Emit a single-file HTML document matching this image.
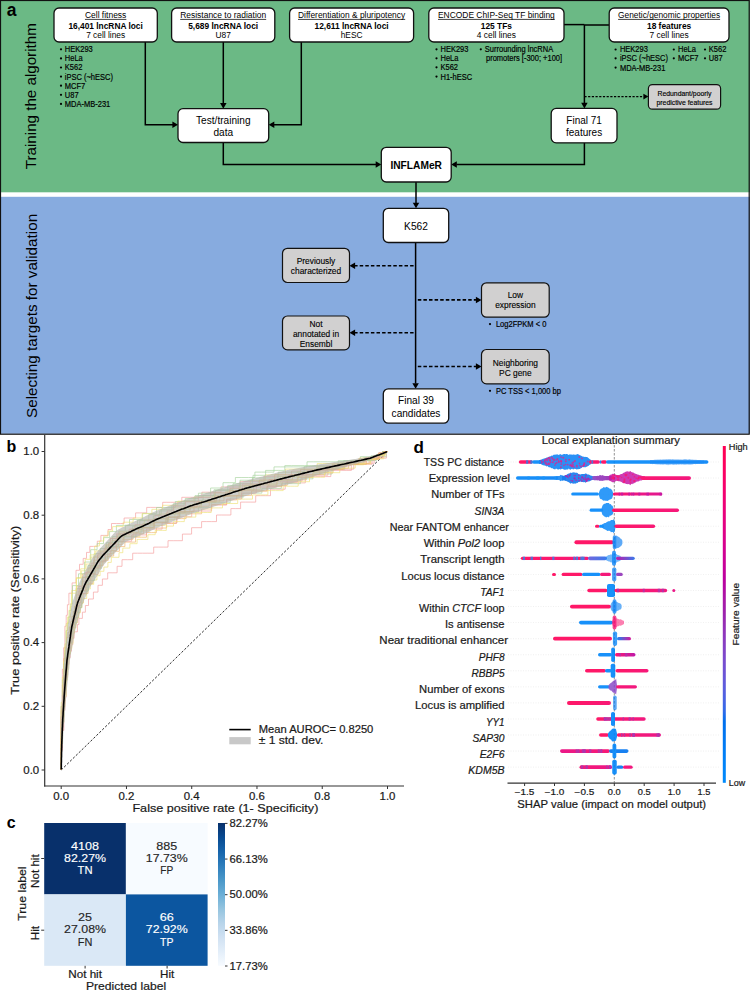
<!DOCTYPE html>
<html><head><meta charset="utf-8"><style>
html,body{margin:0;padding:0;background:#fff;width:750px;height:991px;overflow:hidden}
svg{display:block;font-family:"Liberation Sans", sans-serif}
</style></head><body>
<svg width="750" height="991" viewBox="0 0 750 991">
<rect width="750" height="991" fill="#fff"/>
<rect x="0" y="0" width="750" height="192.3" fill="#6bb985"/>
<rect x="0" y="196.8" width="750" height="237" fill="#87abdf"/>
<rect x="0.5" y="0.5" width="748.7" height="433.7" fill="none" stroke="#111" stroke-width="1.2"/>
<text x="6.8" y="16.2" font-size="17.5" text-anchor="start" font-weight="bold" fill="#000" >a</text>
<text transform="translate(36,96.2) rotate(-90)" font-size="15.2" text-anchor="middle" textLength="146" lengthAdjust="spacingAndGlyphs">Training the algorithm</text>
<text transform="translate(37,315.9) rotate(-90)" font-size="15.2" text-anchor="middle" textLength="204" lengthAdjust="spacingAndGlyphs">Selecting targets for validation</text>
<polyline points="145.3,42 145.3,124.7 173,124.7" fill="none" stroke="#000" stroke-width="1.5"/>
<polygon points="178,124.7 172.4,121.452 172.4,127.94800000000001" fill="#000"/>
<polyline points="223.3,42 223.3,103.7" fill="none" stroke="#000" stroke-width="1.5"/>
<polygon points="223.3,108.7 220.05200000000002,103.10000000000001 226.548,103.10000000000001" fill="#000"/>
<polyline points="301.3,42 301.3,124.7 274,124.7" fill="none" stroke="#000" stroke-width="1.5"/>
<polygon points="268.7,124.7 274.3,121.452 274.3,127.94800000000001" fill="#000"/>
<polyline points="223.3,142.5 223.3,164.6 376,164.6" fill="none" stroke="#000" stroke-width="1.5"/>
<polygon points="381.3,164.6 375.7,161.352 375.7,167.84799999999998" fill="#000"/>
<polyline points="564,24.6 584.4,24.6" fill="none" stroke="#000" stroke-width="1.5"/>
<polyline points="609,25 584.4,25" fill="none" stroke="#000" stroke-width="1.5"/>
<polyline points="584.4,24.6 584.4,103.5" fill="none" stroke="#000" stroke-width="1.5"/>
<polygon points="584.4,108.4 581.1519999999999,102.80000000000001 587.648,102.80000000000001" fill="#000"/>
<polyline points="584.4,96.6 643.5,96.6" fill="none" stroke="#000" stroke-width="1.1" stroke-dasharray="2.2,1.5"/>
<polygon points="648.4,96.6 643.4,93.69999999999999 643.4,99.5" fill="#000"/>
<polyline points="584.4,142.8 584.4,164.6 456.5,164.6" fill="none" stroke="#000" stroke-width="1.5"/>
<polygon points="451.2,164.6 456.8,161.352 456.8,167.84799999999998" fill="#000"/>
<polyline points="416,182 416,203.5" fill="none" stroke="#000" stroke-width="1.5"/>
<polygon points="416,208.3 412.752,202.70000000000002 419.248,202.70000000000002" fill="#000"/>
<rect x="54" y="8" width="103.30000000000001" height="34" rx="5" ry="5" fill="#fff" stroke="#111" stroke-width="1.3"/>
<text x="105.65" y="18.0" font-size="8.5" text-anchor="middle" fill="#000" textLength="41.4" lengthAdjust="spacingAndGlyphs" >Cell fitness</text>
<line x1="84.95" y1="19.4" x2="126.35000000000001" y2="19.4" stroke="#000" stroke-width="0.75"/>
<text x="105.65" y="28.5" font-size="8.4" text-anchor="middle" font-weight="bold" fill="#000" textLength="74.4" lengthAdjust="spacingAndGlyphs" >16,401 lncRNA loci</text>
<text x="105.65" y="38.4" font-size="8.4" text-anchor="middle" fill="#000" textLength="39" lengthAdjust="spacingAndGlyphs" >7 cell lines</text>
<rect x="171.6" y="8" width="103.20000000000002" height="34" rx="5" ry="5" fill="#fff" stroke="#111" stroke-width="1.3"/>
<text x="223.2" y="18.0" font-size="8.5" text-anchor="middle" fill="#000" textLength="86" lengthAdjust="spacingAndGlyphs" >Resistance to radiation</text>
<line x1="180.2" y1="19.4" x2="266.2" y2="19.4" stroke="#000" stroke-width="0.75"/>
<text x="223.2" y="28.5" font-size="8.4" text-anchor="middle" font-weight="bold" fill="#000" >5,689 lncRNA loci</text>
<text x="223.2" y="38.4" font-size="8.4" text-anchor="middle" fill="#000" >U87</text>
<rect x="289.6" y="8" width="124.0" height="34" rx="5" ry="5" fill="#fff" stroke="#111" stroke-width="1.3"/>
<text x="351.6" y="18.0" font-size="8.5" text-anchor="middle" fill="#000" textLength="107.2" lengthAdjust="spacingAndGlyphs" >Differentiation &amp; pluripotency</text>
<line x1="298.0" y1="19.4" x2="405.20000000000005" y2="19.4" stroke="#000" stroke-width="0.75"/>
<text x="351.6" y="28.5" font-size="8.4" text-anchor="middle" font-weight="bold" fill="#000" >12,611 lncRNA loci</text>
<text x="351.6" y="38.4" font-size="8.4" text-anchor="middle" fill="#000" >hESC</text>
<rect x="428.8" y="8" width="135.2" height="34" rx="5" ry="5" fill="#fff" stroke="#111" stroke-width="1.3"/>
<text x="496.4" y="18.0" font-size="8.5" text-anchor="middle" fill="#000" textLength="116.8" lengthAdjust="spacingAndGlyphs" >ENCODE ChIP-Seq TF binding</text>
<line x1="438.0" y1="19.4" x2="554.8" y2="19.4" stroke="#000" stroke-width="0.75"/>
<text x="496.4" y="28.5" font-size="8.4" text-anchor="middle" font-weight="bold" fill="#000" >125 TFs</text>
<text x="496.4" y="38.4" font-size="8.4" text-anchor="middle" fill="#000" >4 cell lines</text>
<rect x="609.2" y="8" width="119.79999999999995" height="34" rx="5" ry="5" fill="#fff" stroke="#111" stroke-width="1.3"/>
<text x="669.1" y="18.0" font-size="8.5" text-anchor="middle" fill="#000" textLength="102" lengthAdjust="spacingAndGlyphs" >Genetic/genomic properties</text>
<line x1="618.1" y1="19.4" x2="720.1" y2="19.4" stroke="#000" stroke-width="0.75"/>
<text x="669.1" y="28.5" font-size="8.4" text-anchor="middle" font-weight="bold" fill="#000" >18 features</text>
<text x="669.1" y="38.4" font-size="8.4" text-anchor="middle" fill="#000" >7 cell lines</text>
<circle cx="61" cy="49.3" r="1.1" fill="#000"/>
<text x="64.8" y="52.199999999999996" font-size="8.18" stroke="#000" stroke-width="0.18" textLength="27.93" lengthAdjust="spacingAndGlyphs">HEK293</text>
<circle cx="61" cy="58.4" r="1.1" fill="#000"/>
<text x="64.8" y="61.3" font-size="8.18" stroke="#000" stroke-width="0.18" textLength="17.93" lengthAdjust="spacingAndGlyphs">HeLa</text>
<circle cx="61" cy="67.5" r="1.1" fill="#000"/>
<text x="64.8" y="70.4" font-size="8.18" stroke="#000" stroke-width="0.18" textLength="17.52" lengthAdjust="spacingAndGlyphs">K562</text>
<circle cx="61" cy="76.6" r="1.1" fill="#000"/>
<text x="64.8" y="79.5" font-size="8.18" stroke="#000" stroke-width="0.18" textLength="48.14" lengthAdjust="spacingAndGlyphs">iPSC (~hESC)</text>
<circle cx="61" cy="85.69999999999999" r="1.1" fill="#000"/>
<text x="64.8" y="88.6" font-size="8.18" stroke="#000" stroke-width="0.18" textLength="20.42" lengthAdjust="spacingAndGlyphs">MCF7</text>
<circle cx="61" cy="94.8" r="1.1" fill="#000"/>
<text x="64.8" y="97.7" font-size="8.18" stroke="#000" stroke-width="0.18" textLength="13.76" lengthAdjust="spacingAndGlyphs">U87</text>
<circle cx="61" cy="103.89999999999999" r="1.1" fill="#000"/>
<text x="64.8" y="106.8" font-size="8.18" stroke="#000" stroke-width="0.18" textLength="45.43" lengthAdjust="spacingAndGlyphs">MDA-MB-231</text>
<circle cx="436.5" cy="49.3" r="1.1" fill="#000"/>
<text x="440.5" y="52.199999999999996" font-size="8.18" stroke="#000" stroke-width="0.18" textLength="27.93" lengthAdjust="spacingAndGlyphs">HEK293</text>
<circle cx="436.5" cy="58.3" r="1.1" fill="#000"/>
<text x="440.5" y="61.199999999999996" font-size="8.18" stroke="#000" stroke-width="0.18" textLength="17.93" lengthAdjust="spacingAndGlyphs">HeLa</text>
<circle cx="436.5" cy="67.3" r="1.1" fill="#000"/>
<text x="440.5" y="70.2" font-size="8.18" stroke="#000" stroke-width="0.18" textLength="17.52" lengthAdjust="spacingAndGlyphs">K562</text>
<circle cx="436.5" cy="76.6" r="1.1" fill="#000"/>
<text x="440.5" y="79.5" font-size="8.18" stroke="#000" stroke-width="0.18" textLength="31.68" lengthAdjust="spacingAndGlyphs">H1-hESC</text>
<circle cx="480.8" cy="49.3" r="1.1" fill="#000"/>
<text x="484.8" y="52.199999999999996" font-size="8.18" stroke="#000" stroke-width="0.18" textLength="68.37" lengthAdjust="spacingAndGlyphs">Surrounding lncRNA</text>
<text x="486" y="61.199999999999996" font-size="8.18" stroke="#000" stroke-width="0.18" textLength="76.08" lengthAdjust="spacingAndGlyphs">promoters [-300; +100]</text>
<circle cx="615.6" cy="49.5" r="1.1" fill="#000"/>
<text x="619.9" y="52.4" font-size="8.18" stroke="#000" stroke-width="0.18" textLength="27.93" lengthAdjust="spacingAndGlyphs">HEK293</text>
<circle cx="615.6" cy="58.3" r="1.1" fill="#000"/>
<text x="619.9" y="61.199999999999996" font-size="8.18" stroke="#000" stroke-width="0.18" textLength="48.14" lengthAdjust="spacingAndGlyphs">iPSC (~hESC)</text>
<circle cx="615.6" cy="67.6" r="1.1" fill="#000"/>
<text x="619.9" y="70.5" font-size="8.18" stroke="#000" stroke-width="0.18" textLength="45.43" lengthAdjust="spacingAndGlyphs">MDA-MB-231</text>
<circle cx="673.8" cy="49.5" r="1.1" fill="#000"/>
<text x="678" y="52.4" font-size="8.18" stroke="#000" stroke-width="0.18" textLength="17.93" lengthAdjust="spacingAndGlyphs">HeLa</text>
<circle cx="673.8" cy="58.3" r="1.1" fill="#000"/>
<text x="678" y="61.199999999999996" font-size="8.18" stroke="#000" stroke-width="0.18" textLength="20.42" lengthAdjust="spacingAndGlyphs">MCF7</text>
<circle cx="705" cy="49.5" r="1.1" fill="#000"/>
<text x="708.8" y="52.4" font-size="8.18" stroke="#000" stroke-width="0.18" textLength="17.52" lengthAdjust="spacingAndGlyphs">K562</text>
<circle cx="705" cy="58.3" r="1.1" fill="#000"/>
<text x="708.8" y="61.199999999999996" font-size="8.18" stroke="#000" stroke-width="0.18" textLength="13.76" lengthAdjust="spacingAndGlyphs">U87</text>
<rect x="178" y="108.7" width="90.69999999999999" height="33.8" rx="5" ry="5" fill="#fff" stroke="#111" stroke-width="1.3"/>
<text x="223.3" y="123.6" font-size="10.1" text-anchor="middle" fill="#000" >Test/training</text>
<text x="223.3" y="135.6" font-size="10.1" text-anchor="middle" fill="#000" >data</text>
<rect x="551.2" y="108.4" width="65.79999999999995" height="34.400000000000006" rx="5" ry="5" fill="#fff" stroke="#111" stroke-width="1.3"/>
<text x="584.1" y="123.6" font-size="10" text-anchor="middle" fill="#000" >Final 71</text>
<text x="584.1" y="135.8" font-size="10" text-anchor="middle" fill="#000" >features</text>
<rect x="381.3" y="147.3" width="69.89999999999998" height="34.69999999999999" rx="5" ry="5" fill="#fff" stroke="#111" stroke-width="1.3"/>
<text x="416.2" y="168.6" font-size="10.3" text-anchor="middle" font-weight="bold" fill="#000" textLength="51.5" lengthAdjust="spacingAndGlyphs" >INFLAMeR</text>
<rect x="648.4" y="84.6" width="72.20000000000005" height="24.60000000000001" rx="4" ry="4" fill="#d1d0d0" stroke="#111" stroke-width="1.2"/>
<text x="684.5" y="95.6" font-size="6.85" text-anchor="middle" fill="#000" stroke="#000" stroke-width="0.15">Redundant/poorly</text>
<text x="684.5" y="104.6" font-size="6.85" text-anchor="middle" fill="#000" stroke="#000" stroke-width="0.15">predictive features</text>
<polyline points="415.6,242.5 415.6,383.5" fill="none" stroke="#000" stroke-width="1.5"/>
<polygon points="415.6,388.8 412.35200000000003,383.2 418.848,383.2" fill="#000"/>
<polyline points="413.6,265.7 354.5,265.7" fill="none" stroke="#000" stroke-width="1.6" stroke-dasharray="3.5,2.1"/>
<polygon points="349.5,265.7 355.1,262.452 355.1,268.948" fill="#000"/>
<polyline points="413.6,332.8 354.5,332.8" fill="none" stroke="#000" stroke-width="1.6" stroke-dasharray="3.5,2.1"/>
<polygon points="349.5,332.8 355.1,329.552 355.1,336.048" fill="#000"/>
<polyline points="417.8,299.9 476.5,299.9" fill="none" stroke="#000" stroke-width="1.6" stroke-dasharray="3.5,2.1"/>
<polygon points="481.5,299.9 475.9,296.652 475.9,303.14799999999997" fill="#000"/>
<polyline points="417.8,366.5 476.5,366.5" fill="none" stroke="#000" stroke-width="1.6" stroke-dasharray="3.5,2.1"/>
<polygon points="481.5,366.5 475.9,363.252 475.9,369.748" fill="#000"/>
<rect x="383.3" y="208.3" width="65.39999999999998" height="34.19999999999999" rx="5" ry="5" fill="#fff" stroke="#111" stroke-width="1.3"/>
<text x="416" y="229.8" font-size="10.2" text-anchor="middle" fill="#000" >K562</text>
<rect x="383.3" y="388.8" width="65.39999999999998" height="34.39999999999998" rx="5" ry="5" fill="#fff" stroke="#111" stroke-width="1.3"/>
<text x="416" y="404.3" font-size="10.1" text-anchor="middle" fill="#000" >Final 39</text>
<text x="416" y="416.9" font-size="10.1" text-anchor="middle" fill="#000" >candidates</text>
<rect x="282.5" y="248.3" width="67.0" height="34.19999999999999" rx="5" ry="5" fill="#d1d0d0" stroke="#111" stroke-width="1.2"/>
<text x="316" y="264.3" font-size="8.4" text-anchor="middle" fill="#000" stroke="#000" stroke-width="0.12">Previously</text>
<text x="316" y="274.0" font-size="8.4" text-anchor="middle" fill="#000" stroke="#000" stroke-width="0.12">characterized</text>
<rect x="282.5" y="316" width="67.0" height="33.89999999999998" rx="5" ry="5" fill="#d1d0d0" stroke="#111" stroke-width="1.2"/>
<text x="316" y="326.7" font-size="8.4" text-anchor="middle" fill="#000" stroke="#000" stroke-width="0.12">Not</text>
<text x="316" y="336.6" font-size="8.4" text-anchor="middle" fill="#000" stroke="#000" stroke-width="0.12">annotated in</text>
<text x="316" y="346.6" font-size="8.4" text-anchor="middle" fill="#000" stroke="#000" stroke-width="0.12">Ensembl</text>
<rect x="481.5" y="282.8" width="67.70000000000005" height="34.39999999999998" rx="5" ry="5" fill="#d1d0d0" stroke="#111" stroke-width="1.2"/>
<text x="515.4" y="298.1" font-size="8.4" text-anchor="middle" fill="#000" stroke="#000" stroke-width="0.12">Low</text>
<text x="515.4" y="308.4" font-size="8.4" text-anchor="middle" fill="#000" stroke="#000" stroke-width="0.12">expression</text>
<rect x="481.5" y="349.5" width="67.70000000000005" height="34.39999999999998" rx="5" ry="5" fill="#d1d0d0" stroke="#111" stroke-width="1.2"/>
<text x="515.4" y="365.6" font-size="8.4" text-anchor="middle" fill="#000" stroke="#000" stroke-width="0.12">Neighboring</text>
<text x="515.4" y="376.0" font-size="8.4" text-anchor="middle" fill="#000" stroke="#000" stroke-width="0.12">PC gene</text>
<circle cx="490" cy="324.1" r="1.1" fill="#000"/>
<text x="495.9" y="327.0" font-size="8.23" stroke="#000" stroke-width="0.18" textLength="50.57" lengthAdjust="spacingAndGlyphs">Log2FPKM &lt; 0</text>
<circle cx="490" cy="390.8" r="1.1" fill="#000"/>
<text x="495.9" y="393.7" font-size="8.23" stroke="#000" stroke-width="0.18" textLength="65.13" lengthAdjust="spacingAndGlyphs">PC TSS &lt; 1,000 bp</text>
<text x="6.5" y="452.3" font-size="16" text-anchor="start" font-weight="bold" fill="#000" >b</text>
<line x1="44.7" y1="435" x2="44.7" y2="786.6" stroke="#333" stroke-width="1.2"/>
<line x1="44.1" y1="786" x2="404" y2="786" stroke="#333" stroke-width="1.2"/>
<line x1="41.6" y1="770.0" x2="44.7" y2="770.0" stroke="#333" stroke-width="1"/>
<text x="39.2" y="773.75" font-size="10.40" text-anchor="end" fill="#1a1a1a" stroke="#1a1a1a" stroke-width="0.2" textLength="15.90" lengthAdjust="spacingAndGlyphs">0.0</text>
<line x1="61.2" y1="786" x2="61.2" y2="789" stroke="#333" stroke-width="1"/>
<text x="61.2" y="799.7" font-size="10.40" text-anchor="middle" fill="#1a1a1a" stroke="#1a1a1a" stroke-width="0.2" textLength="15.90" lengthAdjust="spacingAndGlyphs">0.0</text>
<line x1="41.6" y1="706.3" x2="44.7" y2="706.3" stroke="#333" stroke-width="1"/>
<text x="39.2" y="710.05" font-size="10.40" text-anchor="end" fill="#1a1a1a" stroke="#1a1a1a" stroke-width="0.2" textLength="15.90" lengthAdjust="spacingAndGlyphs">0.2</text>
<line x1="126.46000000000001" y1="786" x2="126.46000000000001" y2="789" stroke="#333" stroke-width="1"/>
<text x="126.46000000000001" y="799.7" font-size="10.40" text-anchor="middle" fill="#1a1a1a" stroke="#1a1a1a" stroke-width="0.2" textLength="15.90" lengthAdjust="spacingAndGlyphs">0.2</text>
<line x1="41.6" y1="642.6" x2="44.7" y2="642.6" stroke="#333" stroke-width="1"/>
<text x="39.2" y="646.35" font-size="10.40" text-anchor="end" fill="#1a1a1a" stroke="#1a1a1a" stroke-width="0.2" textLength="15.90" lengthAdjust="spacingAndGlyphs">0.4</text>
<line x1="191.72000000000003" y1="786" x2="191.72000000000003" y2="789" stroke="#333" stroke-width="1"/>
<text x="191.72000000000003" y="799.7" font-size="10.40" text-anchor="middle" fill="#1a1a1a" stroke="#1a1a1a" stroke-width="0.2" textLength="15.90" lengthAdjust="spacingAndGlyphs">0.4</text>
<line x1="41.6" y1="578.9" x2="44.7" y2="578.9" stroke="#333" stroke-width="1"/>
<text x="39.2" y="582.65" font-size="10.40" text-anchor="end" fill="#1a1a1a" stroke="#1a1a1a" stroke-width="0.2" textLength="15.90" lengthAdjust="spacingAndGlyphs">0.6</text>
<line x1="256.98" y1="786" x2="256.98" y2="789" stroke="#333" stroke-width="1"/>
<text x="256.98" y="799.7" font-size="10.40" text-anchor="middle" fill="#1a1a1a" stroke="#1a1a1a" stroke-width="0.2" textLength="15.90" lengthAdjust="spacingAndGlyphs">0.6</text>
<line x1="41.6" y1="515.2" x2="44.7" y2="515.2" stroke="#333" stroke-width="1"/>
<text x="39.2" y="518.95" font-size="10.40" text-anchor="end" fill="#1a1a1a" stroke="#1a1a1a" stroke-width="0.2" textLength="15.90" lengthAdjust="spacingAndGlyphs">0.8</text>
<line x1="322.24" y1="786" x2="322.24" y2="789" stroke="#333" stroke-width="1"/>
<text x="322.24" y="799.7" font-size="10.40" text-anchor="middle" fill="#1a1a1a" stroke="#1a1a1a" stroke-width="0.2" textLength="15.90" lengthAdjust="spacingAndGlyphs">0.8</text>
<line x1="41.6" y1="451.5" x2="44.7" y2="451.5" stroke="#333" stroke-width="1"/>
<text x="39.2" y="455.25" font-size="10.40" text-anchor="end" fill="#1a1a1a" stroke="#1a1a1a" stroke-width="0.2" textLength="15.90" lengthAdjust="spacingAndGlyphs">1.0</text>
<line x1="387.5" y1="786" x2="387.5" y2="789" stroke="#333" stroke-width="1"/>
<text x="387.5" y="799.7" font-size="10.40" text-anchor="middle" fill="#1a1a1a" stroke="#1a1a1a" stroke-width="0.2" textLength="15.90" lengthAdjust="spacingAndGlyphs">1.0</text>
<text x="225.4" y="812.2" font-size="11.61" text-anchor="middle" fill="#1a1a1a" stroke="#1a1a1a" stroke-width="0.2" textLength="186.00" lengthAdjust="spacingAndGlyphs">False positive rate (1- Specificity)</text>
<text transform="translate(18.6,610.2) rotate(-90)" font-size="11.70" text-anchor="middle" fill="#1a1a1a" stroke="#1a1a1a" stroke-width="0.2" textLength="168.95" lengthAdjust="spacingAndGlyphs">True positive rate (Sensitivity)</text>
<line x1="61.2" y1="770.0" x2="387.5" y2="451.5" stroke="#222" stroke-width="0.95" stroke-dasharray="2.4,1.7"/>
<polyline points="61.2,770.0 61.2,764.7 61.2,759.4 61.2,754.1 61.2,748.8 61.2,743.5 61.2,738.2 61.2,732.9 61.2,727.5 61.2,722.2 61.2,716.9 61.2,711.6 61.2,706.3 62.4,706.3 62.4,701.0 62.4,695.7 62.4,690.4 62.4,685.0 62.4,679.7 62.4,674.4 62.4,669.1 63.7,669.1 63.7,663.8 63.7,658.4 63.7,653.0 63.7,647.7 64.9,647.7 64.9,642.4 64.9,637.0 64.9,631.7 64.9,626.2 66.2,626.2 66.2,620.5 66.2,615.3 67.4,615.3 67.4,610.0 67.4,604.7 68.9,604.7 68.9,598.5 68.9,593.2 72.1,593.2 72.1,588.0 72.1,582.9 76.0,582.9 76.0,576.4 76.0,570.3 79.5,570.3 79.5,564.3 83.2,564.3 83.2,558.4 86.5,558.4 86.5,552.4 89.8,552.4 89.8,546.4 93.5,546.4 97.3,546.4 97.3,541.2 100.9,541.2 100.9,535.4 104.4,535.4 108.0,535.4 108.0,529.5 111.5,529.5 111.5,523.5 116.3,523.5 120.5,523.5 124.1,523.5 124.1,518.0 127.8,518.0 131.9,518.0 135.6,518.0 135.6,512.9 139.6,512.9 143.2,512.9 146.7,512.9 146.7,507.4 150.7,507.4 155.1,507.4 158.9,507.4 162.7,507.4 162.7,502.3 166.6,502.3 170.4,502.3 174.2,502.3 178.0,502.3 181.8,502.3 181.8,497.3 186.0,497.3 190.4,497.3 194.3,497.3 198.2,497.3 201.9,497.3 201.9,492.2 205.7,492.2 209.5,492.2 213.4,492.2 217.2,492.2 221.0,492.2 221.0,486.9 224.9,486.9 228.7,486.9 232.6,486.9 236.4,486.9 240.2,486.9 240.2,481.6 244.4,481.6 248.4,481.6 252.3,481.6 256.2,481.6 260.1,481.6 264.0,481.6 264.0,476.3 267.9,476.3 271.8,476.3 275.7,476.3 279.7,476.3 283.7,476.3 287.6,476.3 291.5,476.3 291.5,471.1 295.4,471.1 299.3,471.1 303.3,471.1 307.2,471.1 311.1,471.1 315.0,471.1 319.0,471.1 319.0,465.9 322.9,465.9 326.9,465.9 330.8,465.9 334.7,465.9 338.6,465.9 342.6,465.9 346.5,465.9 350.4,465.9 350.4,460.7 354.3,460.7 358.3,460.7 362.2,460.7 366.1,460.7 369.9,460.7 373.7,460.7 373.7,455.4 377.5,455.4 381.2,455.4 385.0,455.4 385.0,451.5 387.5,451.5" fill="none" stroke="#f4a0a0" stroke-width="0.9" opacity="0.75"/>
<polyline points="61.2,770.0 61.2,763.4 61.2,756.7 61.2,750.1 62.4,750.1 62.4,743.5 62.4,736.9 62.4,730.3 63.7,730.3 63.7,723.6 63.7,717.1 63.7,710.4 64.9,710.4 64.9,703.8 64.9,697.2 66.2,697.2 66.2,690.6 66.2,684.0 66.2,677.4 67.6,677.4 67.6,670.8 67.6,664.2 68.9,664.2 68.9,657.7 70.2,657.7 70.2,651.2 71.5,651.2 71.5,644.7 72.8,644.7 72.8,638.3 74.1,638.3 74.1,631.8 75.8,631.8 77.4,631.8 77.4,624.6 78.9,624.6 78.9,618.4 80.8,618.4 82.4,618.4 82.4,612.2 83.9,612.2 85.4,612.2 85.4,605.5 87.1,605.5 88.5,605.5 88.5,599.0 93.4,599.0 93.4,592.1 98.0,592.1 98.0,585.3 102.4,585.3 102.4,579.0 107.7,579.0 107.7,572.8 112.3,572.8 117.1,572.8 117.1,566.3 122.0,566.3 122.0,559.7 127.4,559.7 132.7,559.7 132.7,553.2 137.5,553.2 142.5,553.2 147.9,553.2 153.7,553.2 153.7,547.1 158.2,547.1 163.2,547.1 168.0,547.1 168.0,540.7 173.3,540.7 177.8,540.7 182.4,540.7 182.4,534.1 187.0,534.1 191.6,534.1 191.6,527.7 196.0,527.7 201.6,527.7 201.6,521.6 206.4,521.6 211.6,521.6 216.5,521.6 216.5,515.0 221.3,515.0 226.1,515.0 230.9,515.0 230.9,508.6 235.7,508.6 240.6,508.6 240.6,502.1 245.4,502.1 250.8,502.1 255.7,502.1 255.7,495.7 260.6,495.7 265.6,495.7 270.5,495.7 270.5,489.2 275.4,489.2 280.3,489.2 285.2,489.2 285.2,482.9 290.1,482.9 295.2,482.9 300.2,482.9 305.3,482.9 305.3,476.6 310.4,476.6 315.5,476.6 320.5,476.6 325.7,476.6 330.8,476.6 330.8,470.4 336.0,470.4 341.1,470.4 346.2,470.4 351.4,470.4 351.4,464.3 356.5,464.3 361.6,464.3 366.7,464.3 372.0,464.3 372.0,458.1 376.8,458.1 381.6,458.1 386.4,458.1 386.4,451.7 386.4,451.5 387.5,451.5" fill="none" stroke="#f4a0a0" stroke-width="0.9" opacity="0.75"/>
<polyline points="61.2,770.0 61.2,764.7 61.2,759.4 61.2,754.1 61.2,748.8 61.2,743.5 61.2,738.2 61.2,732.8 61.2,727.5 61.2,722.2 61.2,716.9 61.2,711.6 61.2,706.3 62.4,706.3 62.4,701.0 62.4,695.7 62.4,690.4 62.4,685.1 62.4,679.8 63.8,679.8 63.8,674.5 63.8,669.2 63.8,663.9 65.1,663.9 65.1,658.5 65.1,653.3 66.5,653.3 66.5,648.0 66.5,642.8 68.0,642.8 68.0,637.5 68.0,632.3 69.5,632.3 69.5,627.0 71.0,627.0 71.0,621.7 72.2,621.7 72.2,616.5 73.5,616.5 73.5,611.4 74.7,611.4 74.7,606.2 76.0,606.2 76.0,600.9 76.0,594.6 76.0,588.4 81.9,588.4 81.9,583.3 81.9,577.2 87.9,577.2 87.9,571.4 87.9,565.5 94.0,565.5 94.0,559.4 94.0,553.7 100.4,553.7 100.4,548.5 106.6,548.5 106.6,542.5 112.6,542.5 112.6,536.5 118.8,536.5 118.8,531.0 125.3,531.0 125.3,525.3 131.2,525.3 137.4,525.3 137.4,520.2 143.0,520.2 148.8,520.2 148.8,514.6 155.1,514.6 161.2,514.6 161.2,509.3 167.3,509.3 173.3,509.3 173.3,503.7 179.3,503.7 185.3,503.7 185.3,498.5 192.1,498.5 198.4,498.5 198.4,493.2 204.4,493.2 210.6,493.2 210.6,488.0 216.8,488.0 223.0,488.0 223.0,482.7 229.2,482.7 235.4,482.7 235.4,477.5 241.9,477.5 248.6,477.5 254.9,477.5 254.9,472.1 261.3,472.1 267.6,472.1 274.0,472.1 274.0,466.9 280.5,466.9 287.0,466.9 293.7,466.9 300.4,466.9 307.0,466.9 307.0,461.8 313.7,461.8 320.6,461.8 327.2,461.8 333.9,461.8 340.5,461.8 347.2,461.8 353.8,461.8 360.4,461.8 360.4,456.7 367.1,456.7 373.3,456.7 379.7,456.7 386.2,456.7 386.2,451.5 387.5,451.5" fill="none" stroke="#a8d49f" stroke-width="0.9" opacity="0.75"/>
<polyline points="61.2,770.0 61.2,763.4 61.2,756.7 61.2,750.1 61.2,743.5 62.4,743.5 62.4,736.9 62.4,730.2 62.4,723.6 62.4,717.0 63.7,717.0 63.7,710.4 63.7,703.8 63.7,697.1 64.9,697.1 64.9,690.5 64.9,683.9 64.9,677.3 66.2,677.3 66.2,670.7 66.2,664.1 67.5,664.1 67.5,657.5 68.9,657.5 68.9,651.0 68.9,644.5 70.5,644.5 70.5,637.9 71.9,637.9 71.9,631.4 73.4,631.4 73.4,625.1 74.8,625.1 74.8,618.7 76.2,618.7 76.2,612.3 78.0,612.3 78.0,605.9 79.8,605.9 81.1,605.9 81.1,600.1 81.1,593.9 86.3,593.9 86.3,587.8 86.3,582.4 91.6,582.4 91.6,576.7 91.6,570.9 97.0,570.9 97.0,565.2 102.3,565.2 102.3,559.2 107.4,559.2 107.4,553.5 112.9,553.5 112.9,547.8 118.4,547.8 118.4,542.0 123.6,542.0 123.6,536.3 129.0,536.3 133.9,536.3 139.9,536.3 139.9,530.8 144.9,530.8 149.9,530.8 149.9,525.4 154.8,525.4 160.6,525.4 165.3,525.4 165.3,519.6 170.1,519.6 174.9,519.6 174.9,513.7 179.7,513.7 185.6,513.7 185.6,507.9 191.5,507.9 196.4,507.9 201.3,507.9 201.3,502.4 206.2,502.4 211.1,502.4 216.0,502.4 216.0,496.9 220.9,496.9 225.7,496.9 225.7,491.4 230.6,491.4 235.4,491.4 240.3,491.4 240.3,485.9 245.4,485.9 250.4,485.9 250.4,480.5 255.4,480.5 260.4,480.5 265.4,480.5 265.4,474.9 270.4,474.9 275.4,474.9 280.4,474.9 285.5,474.9 285.5,469.1 290.7,469.1 296.0,469.1 301.2,469.1 306.5,469.1 311.8,469.1 317.2,469.1 317.2,463.6 322.5,463.6 327.8,463.6 333.0,463.6 338.3,463.6 343.6,463.6 348.8,463.6 354.1,463.6 359.4,463.6 359.4,458.0 364.6,458.0 369.7,458.0 374.8,458.0 379.8,458.0 379.8,452.6 384.9,452.6 384.9,451.5 387.5,451.5" fill="none" stroke="#eee27a" stroke-width="0.9" opacity="0.75"/>
<polyline points="61.2,770.0 61.2,764.7 61.2,759.4 61.2,754.1 61.2,748.8 61.2,743.5 61.2,738.1 61.2,732.8 61.2,727.5 61.2,722.2 61.2,716.9 61.2,710.3 62.6,710.3 62.6,703.7 62.6,697.1 63.8,697.1 63.8,690.5 63.8,683.9 65.1,683.9 65.1,677.3 66.3,677.3 66.3,670.7 66.3,664.1 67.7,664.1 67.7,657.5 67.7,651.0 69.2,651.0 69.2,644.4 70.5,644.4 70.5,637.8 70.5,631.2 71.8,631.2 71.8,624.6 73.2,624.6 73.2,618.1 74.4,618.1 74.4,611.6 75.7,611.6 75.7,605.1 76.9,605.1 76.9,598.5 76.9,592.2 76.9,586.0 82.6,586.0 82.6,579.7 82.6,573.9 88.2,573.9 88.2,568.1 94.3,568.1 94.3,562.5 94.3,557.0 100.2,557.0 100.2,551.3 106.0,551.3 106.0,545.9 111.8,545.9 111.8,540.4 117.5,540.4 117.5,534.8 123.9,534.8 130.0,534.8 130.0,529.5 136.0,529.5 142.2,529.5 142.2,524.0 148.2,524.0 154.1,524.0 154.1,518.7 160.0,518.7 166.1,518.7 166.1,512.9 172.2,512.9 178.3,512.9 184.4,512.9 184.4,507.2 190.6,507.2 197.0,507.2 197.0,501.8 203.3,501.8 209.7,501.8 216.1,501.8 216.1,496.4 222.5,496.4 228.9,496.4 235.4,496.4 241.8,496.4 241.8,490.9 248.2,490.9 254.8,490.9 261.3,490.9 267.8,490.9 267.8,485.4 274.3,485.4 280.8,485.4 287.2,485.4 287.2,479.9 293.6,479.9 299.9,479.9 306.3,479.9 306.3,474.4 312.6,474.4 318.9,474.4 325.3,474.4 325.3,468.8 331.7,468.8 338.1,468.8 344.5,468.8 344.5,463.3 350.9,463.3 357.4,463.3 363.8,463.3 370.3,463.3 370.3,458.0 376.4,458.0 382.6,458.0 382.6,452.5 382.6,451.5 387.5,451.5" fill="none" stroke="#f2b46e" stroke-width="0.9" opacity="0.75"/>
<polyline points="61.2,770.0 61.2,764.7 61.2,759.4 61.2,754.1 61.2,748.8 61.2,743.5 61.2,738.2 62.4,738.2 62.4,732.9 62.4,727.6 62.4,722.3 62.4,717.0 63.7,717.0 63.7,711.7 63.7,706.4 63.7,701.1 64.9,701.1 64.9,695.8 64.9,690.6 64.9,685.3 66.1,685.3 66.1,680.0 66.1,674.7 67.4,674.7 67.4,669.4 67.4,664.1 67.4,658.9 68.8,658.9 68.8,653.7 70.2,653.7 70.2,648.5 70.2,643.3 71.5,643.3 71.5,638.0 72.9,638.0 72.9,632.8 72.9,627.7 74.3,627.7 74.3,622.6 75.6,622.6 75.6,617.5 76.9,617.5 76.9,612.4 78.2,612.4 78.2,607.2 79.5,607.2 79.5,602.5 81.1,602.5 81.1,597.6 81.1,592.7 81.1,587.8 87.1,587.8 87.1,582.3 87.1,576.6 93.5,576.6 93.5,570.9 93.5,566.2 99.5,566.2 99.5,561.0 105.4,561.0 105.4,556.1 105.4,551.3 111.7,551.3 111.7,546.5 118.1,546.5 118.1,541.7 124.1,541.7 124.1,536.9 130.0,536.9 136.0,536.9 136.0,532.0 142.0,532.0 142.0,527.2 148.3,527.2 154.2,527.2 154.2,522.1 161.2,522.1 167.5,522.1 167.5,517.1 173.7,517.1 180.0,517.1 180.0,512.1 186.2,512.1 192.1,512.1 198.4,512.1 198.4,507.4 204.8,507.4 211.2,507.4 211.2,502.8 217.6,502.8 223.9,502.8 230.2,502.8 230.2,498.0 236.6,498.0 242.9,498.0 242.9,493.1 249.0,493.1 255.5,493.1 261.9,493.1 261.9,488.4 268.4,488.4 274.8,488.4 281.3,488.4 281.3,483.7 287.6,483.7 294.0,483.7 300.4,483.7 300.4,478.8 306.7,478.8 313.0,478.8 313.0,474.0 319.3,474.0 325.6,474.0 332.0,474.0 332.0,469.2 338.4,469.2 344.8,469.2 344.8,464.4 351.2,464.4 357.6,464.4 364.0,464.4 364.0,459.8 370.4,459.8 376.6,459.8 376.6,454.7 382.6,454.7 382.6,451.5 387.5,451.5" fill="none" stroke="#a8d49f" stroke-width="0.9" opacity="0.75"/>
<polyline points="61.2,770.0 61.2,763.4 61.2,756.7 61.2,750.1 61.2,743.5 61.2,736.8 61.2,730.2 61.2,723.6 62.5,723.6 62.5,717.0 62.5,710.3 62.5,703.7 63.8,703.7 63.8,697.1 63.8,690.5 63.8,683.8 63.8,677.2 65.0,677.2 65.0,670.6 65.0,663.9 65.0,657.2 65.0,650.5 65.0,643.9 66.2,643.9 66.2,637.2 66.2,630.6 66.2,623.5 67.6,623.5 67.6,616.9 68.9,616.9 68.9,610.4 70.2,610.4 70.2,603.8 71.7,603.8 71.7,596.7 71.7,590.5 76.5,590.5 76.5,584.3 76.5,577.5 81.3,577.5 81.3,570.8 86.1,570.8 86.1,564.0 91.1,564.0 91.1,557.0 95.8,557.0 95.8,550.9 100.7,550.9 105.6,550.9 105.6,544.6 110.4,544.6 110.4,538.2 115.2,538.2 119.6,538.2 119.6,531.8 124.9,531.8 129.7,531.8 134.7,531.8 134.7,525.8 139.6,525.8 144.3,525.8 144.3,519.9 149.1,519.9 153.9,519.9 158.9,519.9 158.9,514.0 163.9,514.0 168.8,514.0 173.8,514.0 173.8,507.8 178.8,507.8 183.7,507.8 188.8,507.8 194.1,507.8 194.1,501.8 199.2,501.8 204.3,501.8 209.4,501.8 214.6,501.8 219.7,501.8 219.7,495.5 224.8,495.5 229.8,495.5 234.9,495.5 240.0,495.5 240.0,489.4 245.1,489.4 250.2,489.4 255.3,489.4 260.4,489.4 260.4,483.2 265.5,483.2 270.6,483.2 275.7,483.2 280.8,483.2 280.8,476.9 285.9,476.9 291.0,476.9 296.2,476.9 301.3,476.9 306.4,476.9 306.4,470.8 311.6,470.8 316.8,470.8 322.0,470.8 327.2,470.8 332.4,470.8 332.4,464.8 337.6,464.8 342.9,464.8 348.1,464.8 353.3,464.8 358.5,464.8 363.7,464.8 363.7,458.8 369.0,458.8 374.0,458.8 379.0,458.8 383.9,458.8 383.9,452.7 383.9,451.5 387.5,451.5" fill="none" stroke="#eee27a" stroke-width="0.9" opacity="0.75"/>
<polyline points="61.2,770.0 61.2,764.7 61.2,759.4 61.2,754.1 61.2,748.8 61.2,743.5 62.5,743.5 62.5,738.2 62.5,732.9 62.5,727.6 62.5,722.3 63.7,722.3 63.7,717.0 63.7,711.7 63.7,706.4 63.7,701.1 65.1,701.1 65.1,695.9 65.1,690.6 65.1,685.3 66.4,685.3 66.4,680.0 66.4,674.7 67.6,674.7 67.6,669.4 67.6,664.2 67.6,659.0 69.0,659.0 69.0,653.8 70.4,653.8 70.4,648.5 70.4,643.3 71.9,643.3 71.9,638.1 73.1,638.1 73.1,632.9 74.4,632.9 74.4,627.8 75.6,627.8 75.6,622.8 77.1,622.8 77.1,617.7 78.6,617.7 78.6,612.6 80.1,612.6 80.1,607.5 81.6,607.5 81.6,603.0 83.2,603.0 83.2,598.2 83.2,593.4 88.1,593.4 88.1,588.6 88.1,583.5 93.0,583.5 93.0,579.1 93.0,574.6 98.1,574.6 98.1,570.1 98.1,565.7 103.0,565.7 103.0,560.4 108.2,560.4 108.2,556.0 113.7,556.0 113.7,551.3 119.4,551.3 119.4,546.6 124.9,546.6 124.9,542.1 130.7,542.1 135.6,542.1 135.6,537.2 141.4,537.2 146.5,537.2 146.5,532.6 151.6,532.6 156.4,532.6 156.4,528.0 161.8,528.0 166.6,528.0 166.6,523.5 171.5,523.5 176.4,523.5 176.4,518.6 181.2,518.6 186.1,518.6 186.1,513.8 190.9,513.8 196.5,513.8 201.6,513.8 201.6,509.0 206.7,509.0 211.7,509.0 211.7,504.5 216.7,504.5 221.7,504.5 226.7,504.5 226.7,499.9 231.7,499.9 236.7,499.9 236.7,495.4 241.7,495.4 246.6,495.4 251.5,495.4 251.5,491.0 256.6,491.0 261.7,491.0 266.8,491.0 266.8,486.6 271.9,486.6 277.0,486.6 282.1,486.6 282.1,482.1 287.1,482.1 292.2,482.1 297.3,482.1 297.3,477.5 302.5,477.5 307.6,477.5 312.7,477.5 312.7,472.8 317.7,472.8 322.8,472.8 328.0,472.8 333.1,472.8 333.1,468.2 338.3,468.2 343.4,468.2 348.6,468.2 348.6,463.5 353.7,463.5 358.8,463.5 364.0,463.5 369.1,463.5 369.1,459.0 374.1,459.0 379.0,459.0 379.0,454.2 383.9,454.2 383.9,451.5 387.5,451.5" fill="none" stroke="#f2b46e" stroke-width="0.9" opacity="0.75"/>
<polyline points="61.2,770.0 61.2,763.4 61.2,756.7 61.2,750.1 61.2,743.5 61.2,736.8 61.2,730.2 61.2,723.6 61.2,716.9 62.4,716.9 62.4,710.3 62.4,703.7 62.4,697.0 62.4,690.4 63.6,690.4 63.6,683.8 63.6,677.1 63.6,670.5 63.6,663.9 64.9,663.9 64.9,657.1 64.9,650.5 66.1,650.5 66.1,643.9 66.1,637.3 66.1,630.6 67.4,630.6 67.4,623.7 68.6,623.7 68.6,617.1 69.8,617.1 69.8,610.6 71.1,610.6 71.1,604.0 72.5,604.0 72.5,598.2 72.5,591.9 72.5,585.6 78.5,585.6 78.5,579.9 78.5,573.8 84.6,573.8 84.6,567.9 84.6,562.0 90.7,562.0 90.7,555.4 90.7,549.7 97.1,549.7 97.1,543.6 103.5,543.6 103.5,537.6 109.6,537.6 109.6,531.6 116.4,531.6 116.4,525.4 123.6,525.4 129.5,525.4 129.5,519.5 135.9,519.5 142.6,519.5 142.6,513.4 149.7,513.4 156.5,513.4 156.5,507.5 162.8,507.5 169.0,507.5 175.3,507.5 175.3,501.5 181.6,501.5 188.3,501.5 195.0,501.5 195.0,495.6 201.4,495.6 207.6,495.6 214.0,495.6 214.0,489.7 220.3,489.7 226.7,489.7 233.0,489.7 233.0,483.7 239.3,483.7 246.0,483.7 252.4,483.7 252.4,477.9 258.8,477.9 265.2,477.9 271.6,477.9 278.1,477.9 278.1,472.2 284.6,472.2 291.1,472.2 297.6,472.2 304.2,472.2 304.2,466.4 310.7,466.4 317.4,466.4 324.0,466.4 330.6,466.4 337.2,466.4 343.7,466.4 343.7,460.6 350.3,460.6 356.9,460.6 363.4,460.6 369.9,460.6 376.1,460.6 376.1,454.8 382.5,454.8 382.5,451.5 387.5,451.5" fill="none" stroke="#a8d49f" stroke-width="0.9" opacity="0.75"/>
<polyline points="61.2,770.0 61.2,763.4 61.2,756.7 61.2,750.1 62.4,750.1 62.4,743.5 62.4,736.9 62.4,730.3 63.7,730.3 63.7,723.6 63.7,717.0 63.7,710.4 63.7,703.8 64.9,703.8 64.9,697.2 64.9,690.5 64.9,683.9 64.9,677.3 66.2,677.3 66.2,670.7 66.2,664.0 66.2,657.4 67.5,657.4 67.5,650.9 68.8,650.9 68.8,644.3 70.0,644.3 70.0,637.8 70.0,631.2 71.6,631.2 71.6,624.8 73.1,624.8 73.1,618.4 75.0,618.4 75.0,612.0 76.9,612.0 76.9,605.7 78.7,605.7 80.2,605.7 80.2,599.7 80.2,593.6 85.1,593.6 85.1,587.6 85.1,581.0 89.8,581.0 89.8,574.1 94.6,574.1 94.6,567.3 99.4,567.3 99.4,561.2 104.8,561.2 104.8,554.5 110.2,554.5 110.2,547.8 115.8,547.8 115.8,541.2 121.3,541.2 126.7,541.2 131.6,541.2 131.6,534.9 136.4,534.9 141.3,534.9 146.4,534.9 146.4,529.1 151.4,529.1 156.3,529.1 162.1,529.1 162.1,522.9 167.1,522.9 172.0,522.9 177.0,522.9 177.0,516.8 182.0,516.8 186.9,516.8 191.7,516.8 191.7,511.0 196.4,511.0 201.5,511.0 206.6,511.0 211.6,511.0 211.6,505.1 216.6,505.1 221.6,505.1 226.6,505.1 226.6,499.0 231.5,499.0 236.4,499.0 241.4,499.0 241.4,493.1 246.2,493.1 251.1,493.1 256.2,493.1 256.2,487.0 261.2,487.0 266.3,487.0 271.4,487.0 276.4,487.0 276.4,481.2 281.5,481.2 286.6,481.2 291.8,481.2 296.9,481.2 302.0,481.2 302.0,475.2 307.2,475.2 312.4,475.2 317.5,475.2 322.7,475.2 327.9,475.2 327.9,469.2 333.0,469.2 338.2,469.2 343.4,469.2 348.5,469.2 353.7,469.2 353.7,463.2 358.8,463.2 364.0,463.2 369.1,463.2 374.2,463.2 374.2,457.0 379.0,457.0 383.9,457.0 383.9,451.5 387.5,451.5" fill="none" stroke="#f4a0a0" stroke-width="0.9" opacity="0.75"/>
<polyline points="61.2,770.0 61.2,764.7 61.2,759.4 61.2,754.1 61.2,748.8 61.2,743.5 61.2,738.2 62.4,738.2 62.4,732.9 62.4,727.6 62.4,722.3 63.6,722.3 63.6,717.0 63.6,711.7 63.6,706.5 64.9,706.5 64.9,701.2 64.9,695.9 66.2,695.9 66.2,690.6 66.2,685.4 66.2,680.1 67.6,680.1 67.6,674.8 67.6,669.5 68.8,669.5 68.8,664.2 68.8,659.1 68.8,653.8 70.5,653.8 70.5,648.6 71.8,648.6 71.8,643.4 73.0,643.4 73.0,638.2 73.0,633.0 74.4,633.0 74.4,627.9 75.8,627.9 75.8,622.9 77.2,622.9 77.2,617.8 78.7,617.8 78.7,612.8 80.2,612.8 80.2,607.7 81.8,607.7 81.8,603.2 83.2,603.2 83.2,598.5 86.7,598.5 86.7,593.7 86.7,589.0 90.3,589.0 90.3,584.3 93.7,584.3 93.7,580.0 96.9,580.0 96.9,575.7 100.1,575.7 100.1,571.3 103.9,571.3 103.9,567.1 107.9,567.1 107.9,562.4 111.3,562.4 111.3,557.3 115.1,557.3 119.0,557.3 119.0,552.7 122.8,552.7 122.8,548.1 126.6,548.1 129.9,548.1 129.9,543.7 133.5,543.7 137.1,543.7 137.1,539.4 140.4,539.4 143.9,539.4 147.9,539.4 147.9,534.7 151.7,534.7 155.2,534.7 155.2,530.4 158.7,530.4 162.7,530.4 166.3,530.4 166.3,526.1 169.9,526.1 173.5,526.1 173.5,521.6 177.1,521.6 180.7,521.6 184.3,521.6 184.3,517.1 188.0,517.1 191.5,517.1 195.8,517.1 195.8,512.5 199.6,512.5 203.4,512.5 207.3,512.5 211.2,512.5 211.2,507.9 214.9,507.9 218.7,507.9 222.5,507.9 222.5,503.5 226.3,503.5 230.1,503.5 233.9,503.5 237.7,503.5 237.7,499.1 241.5,499.1 245.3,499.1 248.7,499.1 252.5,499.1 252.5,494.9 256.4,494.9 260.2,494.9 264.0,494.9 267.9,494.9 267.9,490.6 271.7,490.6 275.5,490.6 279.3,490.6 283.2,490.6 283.2,486.2 286.9,486.2 290.7,486.2 294.5,486.2 298.2,486.2 298.2,481.7 302.0,481.7 305.8,481.7 309.5,481.7 309.5,477.2 313.3,477.2 317.0,477.2 320.7,477.2 324.6,477.2 324.6,472.7 328.4,472.7 332.2,472.7 336.0,472.7 339.8,472.7 339.8,468.1 343.7,468.1 347.5,468.1 351.4,468.1 355.2,468.1 355.2,463.8 359.0,463.8 362.9,463.8 366.7,463.8 370.6,463.8 370.6,459.1 374.4,459.1 378.0,459.1 378.0,454.5 381.6,454.5 385.1,454.5 385.1,451.5 387.5,451.5" fill="none" stroke="#eee27a" stroke-width="0.9" opacity="0.75"/>
<polyline points="61.2,770.0 61.2,764.7 61.2,759.4 61.2,754.1 61.2,748.8 61.2,743.5 61.2,738.2 61.2,732.9 62.4,732.9 62.4,727.6 62.4,722.3 62.4,717.0 62.4,711.7 62.4,706.4 63.6,706.4 63.6,701.1 63.6,695.8 63.6,690.5 64.9,690.5 64.9,685.2 64.9,679.9 64.9,674.6 66.2,674.6 66.2,669.4 66.2,664.1 67.5,664.1 67.5,658.8 67.5,653.6 68.9,653.6 68.9,648.4 70.2,648.4 70.2,643.1 70.2,637.9 71.5,637.9 71.5,632.6 71.5,627.4 72.8,627.4 72.8,622.3 74.2,622.3 74.2,617.1 75.5,617.1 75.5,611.8 75.5,606.6 77.0,606.6 77.0,601.4 78.3,601.4 78.3,596.4 78.3,591.3 82.0,591.3 82.0,586.3 82.0,581.2 85.6,581.2 85.6,576.5 89.3,576.5 89.3,571.8 89.3,567.1 93.0,567.1 93.0,562.4 97.1,562.4 97.1,557.6 101.4,557.6 101.4,552.4 105.1,552.4 105.1,547.6 108.8,547.6 108.8,542.9 112.5,542.9 112.5,538.3 116.3,538.3 120.5,538.3 120.5,533.2 124.4,533.2 128.1,533.2 131.8,533.2 131.8,528.7 135.5,528.7 139.2,528.7 142.9,528.7 142.9,523.8 146.6,523.8 150.2,523.8 153.8,523.8 153.8,518.8 157.4,518.8 161.1,518.8 164.8,518.8 168.5,518.8 168.5,513.9 172.2,513.9 175.9,513.9 179.5,513.9 179.5,509.3 183.2,509.3 186.8,509.3 190.5,509.3 190.5,504.5 194.3,504.5 198.0,504.5 201.8,504.5 201.8,500.0 205.5,500.0 209.2,500.0 212.9,500.0 212.9,495.2 216.6,495.2 220.4,495.2 224.1,495.2 227.8,495.2 227.8,490.6 231.6,490.6 235.3,490.6 239.1,490.6 239.1,485.8 242.9,485.8 246.9,485.8 250.7,485.8 254.6,485.8 258.4,485.8 258.4,481.0 262.3,481.0 266.1,481.0 270.0,481.0 273.9,481.0 277.7,481.0 277.7,476.4 281.6,476.4 285.5,476.4 289.4,476.4 293.3,476.4 297.2,476.4 297.2,471.7 301.0,471.7 304.9,471.7 308.8,471.7 312.7,471.7 316.6,471.7 316.6,467.1 320.5,467.1 324.4,467.1 328.3,467.1 332.2,467.1 336.1,467.1 340.0,467.1 340.0,462.4 343.9,462.4 347.8,462.4 351.7,462.4 355.6,462.4 359.5,462.4 363.4,462.4 363.4,457.9 367.3,457.9 371.1,457.9 374.8,457.9 378.6,457.9 378.6,453.0 382.4,453.0 386.2,453.0 386.2,451.5 387.5,451.5" fill="none" stroke="#c9da8a" stroke-width="0.9" opacity="0.75"/>
<polyline points="61.2,770.0 61.2,764.7 61.2,759.4 61.2,754.1 61.2,748.8 61.2,743.5 61.2,738.2 62.4,738.2 62.4,732.9 62.4,727.6 62.4,722.3 62.4,717.0 62.4,711.7 62.4,706.3 62.4,701.0 62.4,695.7 62.4,690.4 62.4,685.1 63.6,685.1 63.6,679.8 63.6,674.5 63.6,669.2 63.6,663.9 63.6,658.5 65.1,658.5 65.1,653.2 65.1,647.9 66.5,647.9 66.5,642.7 66.5,637.4 68.1,637.4 68.1,632.2 69.3,632.2 69.3,626.9 70.6,626.9 70.6,621.6 71.9,621.6 71.9,616.5 73.3,616.5 73.3,611.3 74.7,611.3 74.7,606.2 76.1,606.2 76.1,600.9 76.1,594.8 79.6,594.8 79.6,588.6 82.9,588.6 82.9,583.6 82.9,577.6 86.7,577.6 86.7,571.8 90.4,571.8 90.4,565.9 93.7,565.9 93.7,560.2 97.5,560.2 97.5,555.0 101.0,555.0 104.8,555.0 104.8,549.2 108.5,549.2 108.5,543.6 112.3,543.6 116.0,543.6 116.0,538.0 119.9,538.0 123.6,538.0 123.6,532.6 127.2,532.6 130.9,532.6 134.7,532.6 138.4,532.6 138.4,527.5 142.2,527.5 146.0,527.5 149.7,527.5 153.4,527.5 153.4,522.2 157.1,522.2 160.8,522.2 164.5,522.2 168.2,522.2 168.2,516.8 172.0,516.8 175.7,516.8 179.4,516.8 179.4,511.5 183.1,511.5 186.8,511.5 190.4,511.5 194.0,511.5 194.0,506.2 197.8,506.2 201.6,506.2 205.4,506.2 209.2,506.2 209.2,500.8 212.9,500.8 216.6,500.8 220.3,500.8 224.0,500.8 224.0,495.5 227.7,495.5 231.4,495.5 235.1,495.5 238.9,495.5 238.9,490.1 242.6,490.1 246.3,490.1 250.1,490.1 253.9,490.1 253.9,485.0 257.7,485.0 261.6,485.0 265.4,485.0 269.2,485.0 269.2,479.9 273.1,479.9 276.9,479.9 280.8,479.9 284.6,479.9 288.5,479.9 292.4,479.9 292.4,474.7 296.3,474.7 300.2,474.7 304.1,474.7 308.0,474.7 311.9,474.7 315.8,474.7 319.7,474.7 319.7,469.4 323.7,469.4 327.6,469.4 331.5,469.4 335.4,469.4 339.3,469.4 343.2,469.4 343.2,464.4 347.0,464.4 350.9,464.4 354.8,464.4 358.7,464.4 362.5,464.4 366.4,464.4 366.4,459.2 370.3,459.2 374.0,459.2 377.7,459.2 377.7,454.0 381.4,454.0 385.0,454.0 385.0,451.5 387.5,451.5" fill="none" stroke="#f2b46e" stroke-width="0.9" opacity="0.75"/>
<polyline points="61.2,770.0 61.2,764.7 61.2,759.4 61.2,754.1 61.2,748.8 61.2,743.5 62.6,743.5 62.6,738.2 62.6,732.9 62.6,727.6 62.6,722.3 63.8,722.3 63.8,717.0 63.8,711.7 63.8,706.4 63.8,701.1 63.8,695.8 63.8,690.5 65.0,690.5 65.0,685.2 65.0,679.9 65.0,674.6 65.0,669.3 65.0,664.0 66.4,664.0 66.4,658.7 66.4,653.5 67.8,653.5 67.8,648.2 69.1,648.2 69.1,643.0 70.4,643.0 70.4,637.8 70.4,632.6 72.1,632.6 72.1,627.5 73.4,627.5 73.4,622.5 75.1,622.5 75.1,617.5 76.9,617.5 76.9,612.4 78.6,612.4 78.6,607.4 80.4,607.4 81.8,607.4 81.8,601.8 81.8,595.8 81.8,591.0 88.3,591.0 88.3,585.7 88.3,580.4 94.7,580.4 94.7,574.7 94.7,568.8 101.2,568.8 101.2,563.3 101.2,557.9 107.7,557.9 107.7,552.5 107.7,547.0 113.9,547.0 113.9,541.5 120.1,541.5 120.1,536.2 126.1,536.2 126.1,531.0 132.8,531.0 132.8,526.1 139.8,526.1 139.8,520.7 146.5,520.7 153.3,520.7 153.3,515.8 159.6,515.8 159.6,510.9 165.7,510.9 171.8,510.9 171.8,505.8 177.9,505.8 184.1,505.8 184.1,500.6 190.6,500.6 196.9,500.6 203.1,500.6 203.1,495.4 209.3,495.4 215.4,495.4 215.4,490.5 221.6,490.5 227.8,490.5 227.8,485.4 233.9,485.4 240.0,485.4 240.0,480.2 246.7,480.2 253.0,480.2 253.0,475.3 259.3,475.3 265.6,475.3 265.6,470.4 271.9,470.4 278.3,470.4 284.8,470.4 284.8,465.6 291.4,465.6 298.0,465.6 304.7,465.6 311.4,465.6 318.2,465.6 324.9,465.6 331.6,465.6 338.2,465.6 338.2,460.7 344.8,460.7 351.4,460.7 358.1,460.7 364.6,460.7 371.0,460.7 371.0,455.8 377.3,455.8 383.7,455.8 383.7,451.5 387.5,451.5" fill="none" stroke="#a8d49f" stroke-width="0.9" opacity="0.75"/>
<polyline points="61.2,770.0 61.2,764.7 61.2,759.4 61.2,754.1 61.2,748.8 61.2,743.5 61.2,738.1 61.2,732.8 61.2,727.5 61.2,722.2 61.2,718.2 61.2,712.9 61.2,707.6 61.2,702.3 62.4,702.3 62.4,697.0 62.4,691.7 62.4,687.7 62.4,682.4 62.4,677.1 63.7,677.1 63.7,671.8 63.7,666.5 63.7,661.2 65.0,661.2 65.0,657.1 65.0,651.9 65.0,646.6 66.3,646.6 66.3,641.3 66.3,636.0 66.3,630.7 67.6,630.7 67.6,626.5 67.6,622.4 68.9,622.4 68.9,617.2 70.3,617.2 70.3,611.9 70.3,606.7 71.7,606.7 71.7,602.6 71.7,598.2 71.7,593.2 76.2,593.2 76.2,588.1 76.2,582.9 76.2,578.4 80.7,578.4 80.7,573.6 80.7,568.8 85.2,568.8 85.2,564.0 85.2,559.3 90.1,559.3 90.1,554.9 94.7,554.9 94.7,550.4 94.7,546.0 99.4,546.0 99.4,541.0 103.8,541.0 103.8,536.1 108.1,536.1 108.1,531.0 112.6,531.0 112.6,526.6 118.0,526.6 123.2,526.6 123.2,522.2 127.9,522.2 133.1,522.2 133.1,518.0 137.9,518.0 142.1,518.0 142.1,513.7 146.8,513.7 151.9,513.7 151.9,509.3 157.4,509.3 162.5,509.3 162.5,505.3 167.6,505.3 172.7,505.3 177.8,505.3 177.8,501.2 182.9,501.2 188.5,501.2 193.9,501.2 193.9,497.0 199.2,497.0 204.3,497.0 209.4,497.0 214.6,497.0 214.6,492.8 219.8,492.8 225.0,492.8 230.2,492.8 230.2,488.6 235.4,488.6 240.6,488.6 245.9,488.6 251.2,488.6 251.2,484.4 256.4,484.4 261.7,484.4 266.9,484.4 272.2,484.4 277.4,484.4 277.4,480.2 282.7,480.2 287.9,480.2 293.1,480.2 298.3,480.2 298.3,476.1 303.4,476.1 308.5,476.1 313.7,476.1 313.7,472.1 318.8,472.1 323.9,472.1 329.1,472.1 329.1,468.0 334.2,468.0 339.4,468.0 344.5,468.0 344.5,463.8 349.7,463.8 354.8,463.8 360.0,463.8 365.1,463.8 365.1,459.6 370.3,459.6 375.2,459.6 375.2,455.5 380.1,455.5 385.0,455.5 385.0,451.5 387.5,451.5" fill="none" stroke="#eee27a" stroke-width="0.9" opacity="0.75"/>
<polyline points="61.2,770.0 61.2,764.7 61.2,759.4 61.2,754.1 61.2,748.8 61.2,743.5 61.2,738.2 61.2,732.9 61.2,727.6 61.2,722.2 61.2,716.9 62.4,716.9 62.4,711.6 62.4,706.3 62.4,701.0 62.4,695.7 63.7,695.7 63.7,690.5 63.7,685.2 65.0,685.2 65.0,679.9 65.0,674.6 66.3,674.6 66.3,669.3 66.3,664.1 67.5,664.1 67.5,658.8 67.5,653.6 68.9,653.6 68.9,648.4 70.2,648.4 70.2,643.1 70.2,637.9 71.5,637.9 71.5,632.7 71.5,627.5 73.1,627.5 73.1,622.3 74.5,622.3 74.5,617.1 75.9,617.1 75.9,611.9 75.9,606.7 77.5,606.7 77.5,601.6 78.9,601.6 78.9,596.6 78.9,591.6 78.9,586.6 85.3,586.6 85.3,581.8 85.3,577.1 85.3,572.5 91.8,572.5 91.8,567.9 91.8,563.1 98.1,563.1 98.1,558.5 98.1,553.2 104.0,553.2 104.0,548.3 110.3,548.3 110.3,543.4 110.3,538.5 116.6,538.5 116.6,533.8 123.1,533.8 129.1,533.8 129.1,529.1 135.1,529.1 135.1,524.6 141.1,524.6 148.0,524.6 148.0,520.1 155.0,520.1 155.0,515.4 161.2,515.4 167.3,515.4 167.3,510.9 173.4,510.9 173.4,506.1 179.5,506.1 185.6,506.1 185.6,501.8 192.1,501.8 198.4,501.8 198.4,497.5 204.6,497.5 210.8,497.5 210.8,492.9 217.1,492.9 223.5,492.9 229.8,492.9 229.8,488.2 236.2,488.2 242.7,488.2 242.7,483.9 249.3,483.9 255.9,483.9 262.4,483.9 268.9,483.9 268.9,479.5 275.4,479.5 281.9,479.5 288.4,479.5 288.4,475.1 294.9,475.1 301.4,475.1 307.8,475.1 307.8,470.6 314.3,470.6 320.7,470.6 327.2,470.6 327.2,466.3 333.7,466.3 340.1,466.3 346.6,466.3 346.6,461.9 353.1,461.9 359.6,461.9 366.1,461.9 366.1,457.4 372.4,457.4 378.7,457.4 378.7,452.7 385.0,452.7 385.0,451.5 387.5,451.5" fill="none" stroke="#f4a0a0" stroke-width="0.9" opacity="0.75"/>
<polyline points="61.2,770.0 61.2,764.7 61.2,759.4 61.2,754.1 61.2,748.8 61.2,743.5 61.2,738.2 62.4,738.2 62.4,732.9 62.4,727.6 62.4,722.3 62.4,717.0 62.4,711.7 62.4,706.4 63.7,706.4 63.7,701.1 63.7,695.8 63.7,690.5 63.7,685.2 65.0,685.2 65.0,679.9 65.0,674.6 65.0,669.3 66.3,669.3 66.3,664.0 66.3,658.8 67.6,658.8 67.6,653.5 67.6,648.3 69.1,648.3 69.1,643.1 70.6,643.1 70.6,637.8 70.6,632.6 72.0,632.6 72.0,627.4 73.4,627.4 73.4,621.1 74.9,621.1 74.9,614.7 76.8,614.7 76.8,608.4 78.7,608.4 78.7,602.4 80.9,602.4 80.9,596.4 80.9,590.3 85.8,590.3 85.8,584.7 90.6,584.7 90.6,579.2 90.6,573.6 95.6,573.6 95.6,567.9 100.5,567.9 100.5,561.9 105.7,561.9 105.7,556.2 111.0,556.2 111.0,550.5 116.5,550.5 116.5,544.7 122.0,544.7 122.0,539.3 127.0,539.3 133.0,539.3 133.0,533.7 138.8,533.7 143.7,533.7 143.7,528.1 148.7,528.1 154.6,528.1 154.6,522.8 160.3,522.8 166.2,522.8 166.2,517.6 172.2,517.6 178.1,517.6 178.1,512.1 184.1,512.1 190.0,512.1 190.0,506.9 194.8,506.9 199.8,506.9 199.8,501.5 204.7,501.5 209.7,501.5 214.6,501.5 214.6,496.0 219.5,496.0 224.5,496.0 229.4,496.0 229.4,490.5 234.3,490.5 239.3,490.5 244.3,490.5 244.3,485.2 249.4,485.2 254.5,485.2 259.5,485.2 259.5,479.9 264.6,479.9 269.7,479.9 274.7,479.9 274.7,474.7 279.8,474.7 285.0,474.7 290.1,474.7 295.4,474.7 300.6,474.7 300.6,469.4 305.8,469.4 311.1,469.4 316.4,469.4 321.7,469.4 326.9,469.4 332.2,469.4 332.2,464.2 337.4,464.2 342.6,464.2 347.9,464.2 353.1,464.2 358.3,464.2 358.3,458.9 363.6,458.9 368.8,458.9 373.8,458.9 378.8,458.9 378.8,453.8 383.8,453.8 383.8,451.5 387.5,451.5" fill="none" stroke="#f2b46e" stroke-width="0.9" opacity="0.75"/>
<path d="M61.6,769.6 L61.7,768.7 L61.7,767.4 L61.8,766.0 L61.8,764.7 L61.9,763.4 L61.9,762.1 L62.0,760.7 L62.1,759.4 L62.1,758.1 L62.2,756.8 L62.2,755.4 L62.3,754.1 L62.3,752.8 L62.4,751.4 L62.4,750.1 L62.5,748.8 L62.6,747.5 L62.6,746.1 L62.7,744.8 L62.8,743.5 L62.8,742.2 L62.9,740.9 L63.0,739.5 L63.1,738.2 L63.2,736.9 L63.3,735.6 L63.3,734.2 L63.4,732.9 L63.5,731.6 L63.6,730.3 L63.7,728.9 L63.8,727.6 L63.8,726.3 L63.9,725.0 L64.0,723.6 L64.1,722.3 L64.2,721.0 L64.3,719.7 L64.4,718.4 L64.5,717.1 L64.6,715.7 L64.7,714.4 L64.8,713.1 L64.9,711.8 L65.1,710.5 L65.2,709.1 L65.3,707.8 L65.4,706.5 L65.5,705.2 L65.6,703.8 L65.7,702.5 L65.8,701.2 L66.0,699.9 L66.1,698.6 L66.2,697.2 L66.3,695.9 L66.4,694.6 L66.5,693.3 L66.6,692.0 L66.8,690.6 L66.9,689.3 L67.0,688.0 L67.2,686.7 L67.3,685.4 L67.4,684.1 L67.6,682.7 L67.7,681.4 L67.8,680.1 L68.0,678.8 L68.1,677.5 L68.2,676.1 L68.4,674.8 L68.5,673.5 L68.6,672.2 L68.8,670.9 L68.9,669.5 L69.1,668.2 L69.2,666.9 L69.3,665.6 L69.5,664.3 L69.6,662.9 L69.7,661.7 L69.9,660.4 L70.1,659.1 L70.3,657.9 L70.5,656.6 L70.7,655.2 L70.9,653.9 L71.2,652.6 L71.4,651.3 L71.7,650.0 L71.9,648.7 L72.1,647.4 L72.4,646.1 L72.6,644.8 L72.8,643.5 L73.1,642.2 L73.3,640.9 L73.6,639.6 L73.8,638.3 L74.0,637.0 L74.3,635.7 L74.5,634.3 L74.8,633.0 L75.0,631.7 L75.2,630.4 L75.5,629.2 L75.7,628.0 L76.0,626.8 L76.3,625.6 L76.7,624.4 L77.1,623.1 L77.4,621.8 L77.8,620.5 L78.1,619.3 L78.5,618.0 L78.9,616.7 L79.2,615.4 L79.6,614.1 L79.9,612.9 L80.3,611.6 L80.7,610.3 L81.0,609.0 L81.4,607.8 L81.7,606.5 L82.1,605.4 L82.4,604.3 L82.9,603.3 L83.4,602.2 L83.9,601.0 L84.4,599.7 L85.0,598.5 L85.5,597.3 L86.0,596.1 L86.6,594.9 L87.1,593.7 L87.6,592.4 L88.2,591.2 L88.7,590.0 L89.2,588.8 L89.7,587.7 L90.2,586.8 L90.7,585.9 L91.3,584.9 L92.0,583.8 L92.7,582.7 L93.5,581.6 L94.2,580.5 L94.9,579.3 L95.6,578.2 L96.3,577.0 L97.1,575.9 L97.8,574.8 L98.5,573.7 L99.2,572.5 L99.9,571.4 L100.5,570.3 L101.2,569.1 L101.9,568.0 L102.6,566.8 L103.2,565.8 L103.7,565.0 L104.3,564.3 L105.0,563.4 L105.8,562.5 L106.7,561.5 L107.5,560.5 L108.3,559.6 L109.1,558.8 L110.0,557.9 L110.9,557.0 L111.8,556.0 L112.8,555.1 L113.7,554.1 L114.7,553.2 L115.6,552.2 L116.5,551.3 L117.5,550.3 L118.4,549.4 L119.3,548.4 L120.3,547.5 L121.2,546.5 L122.1,545.6 L123.0,544.6 L124.0,543.7 L124.8,542.8 L125.4,542.2 L125.7,542.0 L126.2,541.8 L127.0,541.4 L128.2,540.8 L129.4,540.3 L130.7,539.7 L131.9,539.2 L133.1,538.6 L134.3,538.1 L135.5,537.5 L136.7,537.0 L137.8,536.5 L138.9,536.0 L140.1,535.6 L141.3,535.1 L142.5,534.6 L143.8,534.1 L145.1,533.6 L146.4,533.0 L147.8,532.4 L149.1,531.8 L150.3,531.2 L151.5,530.6 L152.7,530.0 L153.9,529.5 L155.0,528.9 L156.2,528.3 L157.4,527.8 L158.6,527.2 L159.6,526.7 L160.6,526.3 L161.7,525.9 L162.9,525.4 L164.2,524.9 L165.4,524.4 L166.6,523.9 L167.8,523.4 L169.1,522.9 L170.3,522.4 L171.5,521.9 L172.8,521.4 L174.0,520.9 L175.2,520.4 L176.4,519.9 L177.7,519.4 L178.9,518.9 L180.1,518.4 L181.4,517.9 L182.6,517.4 L183.8,516.9 L185.0,516.4 L186.3,515.9 L187.5,515.4 L188.7,514.9 L190.0,514.4 L191.1,513.9 L192.2,513.5 L193.2,513.1 L194.3,512.8 L195.5,512.4 L196.8,512.0 L198.1,511.6 L199.4,511.2 L200.6,510.8 L201.9,510.5 L203.2,510.1 L204.4,509.7 L205.7,509.3 L207.0,508.9 L208.3,508.4 L209.6,508.0 L210.9,507.6 L212.2,507.2 L213.4,506.8 L214.7,506.3 L215.9,505.9 L217.2,505.5 L218.5,505.1 L219.7,504.7 L221.0,504.2 L222.2,503.8 L223.5,503.4 L224.7,503.0 L226.0,502.6 L227.3,502.1 L228.5,501.7 L229.8,501.3 L231.0,500.9 L232.3,500.5 L233.6,500.0 L234.8,499.6 L236.1,499.2 L237.3,498.8 L238.6,498.4 L239.9,497.9 L241.1,497.5 L242.4,497.1 L243.6,496.7 L244.9,496.3 L246.1,495.9 L247.2,495.5 L248.4,495.2 L249.6,494.8 L250.9,494.5 L252.1,494.1 L253.4,493.8 L254.7,493.4 L256.0,493.1 L257.3,492.7 L258.5,492.4 L259.8,492.0 L261.1,491.7 L262.4,491.3 L263.7,491.0 L264.9,490.6 L266.2,490.3 L267.5,489.9 L268.8,489.6 L270.1,489.2 L271.3,488.9 L272.6,488.5 L273.9,488.2 L275.2,487.8 L276.5,487.5 L277.7,487.1 L279.0,486.8 L280.3,486.4 L281.6,486.1 L282.8,485.7 L284.1,485.4 L285.3,485.1 L286.6,484.7 L287.9,484.4 L289.2,484.1 L290.4,483.7 L291.7,483.4 L293.0,483.0 L294.2,482.6 L295.5,482.2 L296.8,481.8 L298.0,481.4 L299.3,481.0 L300.6,480.6 L301.8,480.2 L303.1,479.8 L304.4,479.4 L305.6,479.0 L306.9,478.5 L308.2,478.1 L309.4,477.7 L310.7,477.3 L312.0,476.9 L313.2,476.5 L314.5,476.1 L315.8,475.7 L317.0,475.3 L318.2,475.0 L319.5,474.6 L320.7,474.2 L322.0,473.8 L323.3,473.5 L324.6,473.1 L325.8,472.7 L327.1,472.4 L328.4,472.0 L329.7,471.6 L330.9,471.3 L332.2,470.9 L333.5,470.5 L334.8,470.2 L336.1,469.8 L337.3,469.4 L338.6,469.1 L339.9,468.7 L341.2,468.3 L342.4,468.0 L343.7,467.6 L345.0,467.2 L346.3,466.8 L347.6,466.5 L348.8,466.1 L350.1,465.7 L351.4,465.4 L352.7,465.0 L353.9,464.6 L355.2,464.3 L356.5,463.9 L357.8,463.5 L359.1,463.2 L360.3,462.8 L361.6,462.4 L362.9,462.0 L364.2,461.7 L365.4,461.3 L366.7,460.9 L368.0,460.6 L369.3,460.2 L370.7,459.7 L371.9,459.2 L373.2,458.6 L374.4,458.0 L375.6,457.5 L376.8,456.9 L378.0,456.4 L379.2,455.8 L380.4,455.2 L381.6,454.7 L382.8,454.1 L384.0,453.6 L385.2,453.0 L386.4,452.4 L387.2,452.0 L386.9,451.3 L386.1,451.5 L384.8,451.9 L383.6,452.3 L382.3,452.7 L381.0,453.1 L379.7,453.5 L378.5,453.9 L377.2,454.3 L375.9,454.7 L374.7,455.1 L373.4,455.5 L372.1,455.9 L370.9,456.3 L369.7,456.6 L368.5,456.9 L367.2,457.1 L365.9,457.3 L364.6,457.5 L363.3,457.7 L362.0,457.9 L360.7,458.1 L359.3,458.3 L358.0,458.5 L356.7,458.7 L355.4,458.9 L354.1,459.1 L352.8,459.3 L351.5,459.5 L350.1,459.7 L348.8,459.9 L347.5,460.1 L346.2,460.3 L344.9,460.5 L343.6,460.7 L342.3,460.9 L340.9,461.1 L339.6,461.3 L338.3,461.5 L337.0,461.7 L335.7,461.9 L334.4,462.1 L333.1,462.3 L331.7,462.5 L330.4,462.7 L329.1,462.9 L327.8,463.1 L326.5,463.3 L325.2,463.5 L323.9,463.7 L322.5,463.9 L321.2,464.1 L319.9,464.3 L318.6,464.5 L317.3,464.7 L315.9,464.9 L314.6,465.1 L313.2,465.4 L311.9,465.6 L310.6,465.8 L309.3,466.1 L308.0,466.3 L306.7,466.6 L305.4,466.8 L304.1,467.0 L302.7,467.3 L301.4,467.5 L300.1,467.7 L298.8,468.0 L297.5,468.2 L296.2,468.4 L294.9,468.7 L293.6,468.9 L292.3,469.2 L291.0,469.4 L289.7,469.6 L288.4,469.9 L287.1,470.1 L285.8,470.5 L284.5,470.8 L283.2,471.1 L281.9,471.4 L280.5,471.7 L279.2,472.1 L277.9,472.4 L276.6,472.7 L275.4,473.1 L274.1,473.4 L272.8,473.7 L271.5,474.1 L270.2,474.4 L268.9,474.7 L267.7,475.1 L266.4,475.4 L265.1,475.7 L263.8,476.1 L262.5,476.4 L261.2,476.7 L259.9,477.1 L258.7,477.4 L257.4,477.7 L256.1,478.1 L254.8,478.4 L253.5,478.7 L252.2,479.1 L251.0,479.4 L249.7,479.7 L248.4,480.0 L247.1,480.4 L245.8,480.7 L244.5,481.1 L243.1,481.4 L241.7,481.9 L240.3,482.3 L239.1,482.7 L237.8,483.1 L236.5,483.5 L235.3,483.9 L234.0,484.3 L232.8,484.7 L231.5,485.1 L230.2,485.5 L229.0,485.9 L227.7,486.3 L226.4,486.7 L225.2,487.1 L223.9,487.5 L222.6,487.9 L221.4,488.3 L220.1,488.7 L218.8,489.1 L217.6,489.5 L216.3,489.9 L215.0,490.3 L213.8,490.7 L212.5,491.1 L211.3,491.5 L210.0,491.9 L208.7,492.3 L207.5,492.7 L206.2,493.1 L204.9,493.5 L203.7,493.9 L202.5,494.3 L201.3,494.6 L200.0,495.0 L198.7,495.4 L197.5,495.7 L196.2,496.1 L194.9,496.5 L193.7,496.9 L192.4,497.2 L191.1,497.6 L189.8,498.0 L188.4,498.4 L186.9,498.9 L185.5,499.4 L184.2,499.9 L182.9,500.4 L181.7,500.9 L180.5,501.4 L179.2,501.9 L178.0,502.4 L176.8,502.9 L175.5,503.3 L174.3,503.8 L173.1,504.3 L171.8,504.8 L170.6,505.3 L169.4,505.7 L168.1,506.2 L166.9,506.7 L165.7,507.2 L164.4,507.7 L163.2,508.2 L161.9,508.6 L160.7,509.1 L159.5,509.6 L158.2,510.1 L157.0,510.6 L155.7,511.1 L154.4,511.7 L153.0,512.3 L151.6,513.0 L150.4,513.6 L149.2,514.2 L148.0,514.9 L146.8,515.5 L145.7,516.1 L144.5,516.7 L143.3,517.3 L142.1,517.9 L141.1,518.5 L140.0,519.0 L139.0,519.5 L137.8,520.0 L136.6,520.6 L135.4,521.1 L134.2,521.6 L132.9,522.2 L131.6,522.8 L130.3,523.4 L129.1,524.0 L127.9,524.6 L126.7,525.2 L125.5,525.8 L124.3,526.4 L123.1,527.0 L121.9,527.6 L120.8,528.2 L119.2,528.9 L117.4,530.1 L115.7,531.5 L114.4,532.8 L113.5,533.8 L112.6,534.8 L111.7,535.8 L110.8,536.8 L109.9,537.7 L109.0,538.7 L108.1,539.7 L107.2,540.7 L106.3,541.7 L105.5,542.6 L104.6,543.6 L103.7,544.6 L102.8,545.5 L101.9,546.5 L101.0,547.5 L100.1,548.5 L99.1,549.5 L98.1,550.6 L97.2,551.7 L96.3,552.8 L95.5,553.9 L94.6,554.9 L93.7,556.2 L92.7,557.6 L91.8,559.0 L91.1,560.3 L90.5,561.4 L89.8,562.6 L89.2,563.8 L88.5,564.9 L87.9,566.1 L87.3,567.3 L86.7,568.4 L86.1,569.6 L85.5,570.8 L84.9,572.0 L84.2,573.1 L83.6,574.3 L83.0,575.4 L82.4,576.6 L81.7,577.8 L81.1,579.0 L80.4,580.3 L79.7,581.8 L79.1,583.2 L78.6,584.6 L78.2,585.9 L77.7,587.1 L77.3,588.4 L76.9,589.6 L76.4,590.9 L76.0,592.1 L75.5,593.4 L75.1,594.6 L74.7,595.9 L74.2,597.1 L73.8,598.4 L73.3,599.7 L72.8,601.2 L72.4,602.7 L72.1,604.1 L71.9,605.5 L71.6,606.8 L71.3,608.1 L71.1,609.4 L70.8,610.7 L70.6,612.0 L70.3,613.3 L70.0,614.6 L69.8,615.9 L69.5,617.2 L69.3,618.5 L69.0,619.8 L68.7,621.1 L68.5,622.4 L68.2,623.7 L67.9,625.1 L67.7,626.5 L67.5,627.9 L67.4,629.3 L67.2,630.6 L67.1,631.9 L66.9,633.3 L66.8,634.6 L66.7,635.9 L66.5,637.2 L66.4,638.6 L66.3,639.9 L66.1,641.2 L66.0,642.5 L65.9,643.8 L65.7,645.2 L65.6,646.5 L65.4,647.8 L65.3,649.1 L65.2,650.4 L65.0,651.8 L64.9,653.1 L64.8,654.4 L64.6,655.7 L64.5,657.0 L64.3,658.4 L64.2,659.8 L64.0,661.1 L64.0,662.5 L63.9,663.8 L63.8,665.1 L63.7,666.5 L63.7,667.8 L63.6,669.1 L63.5,670.4 L63.4,671.8 L63.4,673.1 L63.3,674.4 L63.2,675.7 L63.1,677.1 L63.1,678.4 L63.0,679.7 L62.9,681.0 L62.8,682.4 L62.8,683.7 L62.7,685.0 L62.6,686.3 L62.5,687.7 L62.5,689.0 L62.4,690.3 L62.3,691.7 L62.3,693.0 L62.2,694.3 L62.2,695.7 L62.1,697.0 L62.1,698.3 L62.0,699.6 L61.9,701.0 L61.9,702.3 L61.8,703.6 L61.8,704.9 L61.7,706.3 L61.7,707.6 L61.6,708.9 L61.6,710.2 L61.5,711.6 L61.5,712.9 L61.4,714.2 L61.4,715.5 L61.3,716.9 L61.2,718.2 L61.2,719.5 L61.2,720.9 L61.1,722.2 L61.1,723.5 L61.1,724.9 L61.1,726.2 L61.0,727.5 L61.0,728.8 L61.0,730.2 L61.0,731.5 L60.9,732.8 L60.9,734.1 L60.9,735.5 L60.9,736.8 L60.9,738.1 L60.8,739.5 L60.8,740.8 L60.8,742.1 L60.8,743.4 L60.7,744.8 L60.7,746.1 L60.7,747.4 L60.7,748.8 L60.7,750.1 L60.8,751.4 L60.8,752.7 L60.8,754.1 L60.8,755.4 L60.8,756.7 L60.8,758.0 L60.8,759.4 L60.8,760.7 L60.8,762.0 L60.8,763.4 L60.8,764.7 L60.8,766.0 L60.8,767.3 L60.8,768.7 L60.8,769.5Z" fill="#b4b4ac" opacity="0.65"/>
<polyline points="61.2,769.6 61.2,768.7 61.3,767.3 61.3,766.0 61.3,764.7 61.3,763.4 61.4,762.0 61.4,760.7 61.4,759.4 61.4,758.1 61.5,756.7 61.5,755.4 61.5,754.1 61.5,752.8 61.6,751.4 61.6,750.1 61.6,748.8 61.7,747.5 61.7,746.1 61.7,744.8 61.8,743.5 61.8,742.1 61.9,740.8 61.9,739.5 62.0,738.2 62.0,736.8 62.1,735.5 62.1,734.2 62.2,732.9 62.2,731.5 62.3,730.2 62.3,728.9 62.4,727.6 62.5,726.2 62.5,724.9 62.6,723.6 62.6,722.3 62.7,720.9 62.7,719.6 62.8,718.3 62.9,717.0 63.0,715.6 63.1,714.3 63.1,713.0 63.2,711.7 63.3,710.3 63.4,709.0 63.5,707.7 63.6,706.4 63.6,705.1 63.7,703.7 63.8,702.4 63.9,701.1 64.0,699.8 64.1,698.4 64.1,697.1 64.2,695.8 64.3,694.5 64.4,693.1 64.5,691.8 64.6,690.5 64.7,689.2 64.8,687.8 64.9,686.5 65.0,685.2 65.1,683.9 65.2,682.6 65.3,681.2 65.4,679.9 65.5,678.6 65.6,677.3 65.7,675.9 65.8,674.6 65.9,673.3 66.0,672.0 66.1,670.7 66.3,669.3 66.4,668.0 66.5,666.7 66.6,665.4 66.7,664.0 66.8,662.7 66.9,661.4 67.0,660.1 67.2,658.8 67.4,657.4 67.6,656.1 67.7,654.8 67.9,653.5 68.1,652.2 68.3,650.9 68.5,649.6 68.7,648.3 68.9,646.9 69.0,645.6 69.2,644.3 69.4,643.0 69.6,641.7 69.8,640.4 70.0,639.1 70.2,637.7 70.4,636.4 70.5,635.1 70.7,633.8 70.9,632.5 71.1,631.2 71.3,629.9 71.5,628.6 71.7,627.2 72.0,625.9 72.3,624.7 72.6,623.4 72.9,622.1 73.2,620.8 73.5,619.5 73.8,618.2 74.1,616.9 74.4,615.6 74.8,614.3 75.1,613.1 75.4,611.8 75.7,610.5 76.0,609.2 76.3,607.9 76.6,606.6 76.9,605.3 77.3,604.0 77.6,602.8 78.1,601.5 78.6,600.3 79.1,599.0 79.5,597.8 80.0,596.6 80.5,595.3 81.0,594.1 81.5,592.9 82.0,591.6 82.5,590.4 83.0,589.2 83.4,587.9 83.9,586.7 84.4,585.5 85.0,584.3 85.6,583.1 86.2,581.9 86.9,580.8 87.6,579.6 88.2,578.5 88.9,577.4 89.6,576.2 90.2,575.1 90.9,573.9 91.6,572.8 92.2,571.6 92.9,570.5 93.5,569.3 94.2,568.2 94.9,567.0 95.5,565.9 96.2,564.7 96.8,563.6 97.5,562.4 98.2,561.3 99.0,560.2 99.8,559.2 100.7,558.2 101.5,557.1 102.4,556.1 103.2,555.1 104.1,554.1 105.0,553.2 106.0,552.2 106.9,551.3 107.8,550.3 108.7,549.4 109.6,548.4 110.5,547.4 111.4,546.5 112.4,545.5 113.3,544.5 114.2,543.6 115.1,542.6 116.0,541.6 116.9,540.7 117.8,539.7 118.7,538.7 119.6,537.8 120.6,536.8 121.6,536.0 122.7,535.3 123.9,534.8 125.1,534.2 126.3,533.6 127.5,533.1 128.7,532.5 129.9,531.9 131.1,531.4 132.3,530.8 133.5,530.2 134.7,529.7 135.9,529.1 137.1,528.6 138.3,528.1 139.6,527.6 140.8,527.1 142.0,526.5 143.2,526.0 144.4,525.4 145.6,524.8 146.8,524.3 148.0,523.7 149.2,523.1 150.3,522.5 151.5,521.9 152.7,521.3 153.9,520.7 155.1,520.1 156.3,519.5 157.5,519.0 158.7,518.5 160.0,518.0 161.2,517.5 162.4,517.0 163.7,516.5 164.9,516.0 166.1,515.5 167.4,515.0 168.6,514.6 169.8,514.1 171.1,513.6 172.3,513.1 173.5,512.6 174.7,512.1 176.0,511.6 177.2,511.1 178.4,510.6 179.7,510.1 180.9,509.6 182.1,509.1 183.4,508.7 184.6,508.2 185.8,507.7 187.1,507.2 188.3,506.7 189.5,506.2 190.8,505.8 192.1,505.4 193.3,505.0 194.6,504.6 195.9,504.2 197.1,503.9 198.4,503.5 199.7,503.1 201.0,502.7 202.2,502.3 203.5,502.0 204.8,501.6 206.0,501.2 207.3,500.8 208.5,500.3 209.8,499.9 211.1,499.5 212.3,499.1 213.6,498.7 214.9,498.3 216.1,497.9 217.4,497.5 218.6,497.1 219.9,496.7 221.2,496.2 222.4,495.8 223.7,495.4 225.0,495.0 226.2,494.6 227.5,494.2 228.7,493.8 230.0,493.4 231.3,493.0 232.5,492.6 233.8,492.1 235.0,491.7 236.3,491.3 237.6,490.9 238.8,490.5 240.1,490.1 241.4,489.7 242.6,489.3 243.9,488.9 245.1,488.5 246.4,488.1 247.7,487.8 249.0,487.4 250.3,487.1 251.5,486.8 252.8,486.4 254.1,486.1 255.4,485.7 256.7,485.4 258.0,485.0 259.2,484.7 260.5,484.4 261.8,484.0 263.1,483.7 264.4,483.3 265.6,483.0 266.9,482.7 268.2,482.3 269.5,482.0 270.8,481.6 272.1,481.3 273.3,481.0 274.6,480.6 275.9,480.3 277.2,479.9 278.5,479.6 279.7,479.2 281.0,478.9 282.3,478.6 283.6,478.2 284.9,477.9 286.2,477.6 287.5,477.3 288.7,476.9 290.0,476.6 291.3,476.3 292.6,476.0 293.9,475.7 295.2,475.3 296.5,475.0 297.8,474.7 299.0,474.4 300.3,474.1 301.6,473.7 302.9,473.4 304.2,473.1 305.5,472.8 306.8,472.5 308.1,472.1 309.3,471.8 310.6,471.5 311.9,471.2 313.2,470.9 314.5,470.5 315.8,470.2 317.1,469.9 318.4,469.6 319.7,469.4 321.0,469.1 322.3,468.8 323.6,468.5 324.8,468.2 326.1,467.9 327.4,467.6 328.7,467.4 330.0,467.1 331.3,466.8 332.6,466.5 333.9,466.2 335.2,465.9 336.5,465.7 337.8,465.4 339.1,465.1 340.4,464.8 341.7,464.5 343.0,464.2 344.3,464.0 345.6,463.7 346.9,463.4 348.2,463.1 349.5,462.8 350.8,462.5 352.1,462.2 353.4,462.0 354.7,461.7 355.9,461.4 357.2,461.1 358.5,460.8 359.8,460.5 361.1,460.3 362.4,460.0 363.7,459.7 365.0,459.4 366.3,459.1 367.6,458.8 368.9,458.5 370.2,458.2 371.4,457.7 372.7,457.3 373.9,456.8 375.1,456.3 376.4,455.8 377.6,455.3 378.8,454.9 380.1,454.4 381.3,453.9 382.6,453.4 383.8,452.9 385.0,452.5 386.3,452.0 387.1,451.7" fill="none" stroke="#000" stroke-width="1.6" stroke-linejoin="round"/>
<line x1="229.3" y1="729.6" x2="250.7" y2="729.6" stroke="#000" stroke-width="1.6"/>
<rect x="229.3" y="737.1" width="21.4" height="7.2" fill="#c8c8c8"/>
<text x="258.7" y="733.3" font-size="10.56" text-anchor="start" fill="#1a1a1a" stroke="#1a1a1a" stroke-width="0.2" textLength="114.63" lengthAdjust="spacingAndGlyphs">Mean AUROC= 0.8250</text>
<text x="258.7" y="744.3" font-size="10.56" text-anchor="start" fill="#1a1a1a" stroke="#1a1a1a" stroke-width="0.2" textLength="64.71" lengthAdjust="spacingAndGlyphs">± 1 std. dev.</text>
<text x="6.8" y="828.4" font-size="16" text-anchor="start" font-weight="bold" fill="#000" >c</text>
<rect x="44.2" y="823" width="81.7" height="71.4" fill="#08306b"/>
<text x="85.05000000000001" y="849.5" font-size="11.44" text-anchor="middle" fill="#fff" stroke="#fff" stroke-width="0.15" textLength="27.99" lengthAdjust="spacingAndGlyphs">4108</text>
<text x="85.05000000000001" y="861.95" font-size="11.44" text-anchor="middle" fill="#fff" stroke="#fff" stroke-width="0.15" textLength="41.94" lengthAdjust="spacingAndGlyphs">82.27%</text>
<text x="85.05000000000001" y="874.4" font-size="11.44" text-anchor="middle" fill="#fff" stroke="#fff" stroke-width="0.15" textLength="14.95" lengthAdjust="spacingAndGlyphs">TN</text>
<rect x="125.9" y="823" width="81.7" height="71.4" fill="#f7fbff"/>
<text x="166.75" y="849.5" font-size="11.44" text-anchor="middle" fill="#262626" stroke="#262626" stroke-width="0.15" textLength="21.00" lengthAdjust="spacingAndGlyphs">885</text>
<text x="166.75" y="861.95" font-size="11.44" text-anchor="middle" fill="#262626" stroke="#262626" stroke-width="0.15" textLength="41.94" lengthAdjust="spacingAndGlyphs">17.73%</text>
<text x="166.75" y="874.4" font-size="11.44" text-anchor="middle" fill="#262626" stroke="#262626" stroke-width="0.15" textLength="12.96" lengthAdjust="spacingAndGlyphs">FP</text>
<rect x="44.2" y="894.4" width="81.7" height="71.4" fill="#dae8f6"/>
<text x="85.05000000000001" y="920.9" font-size="11.44" text-anchor="middle" fill="#262626" stroke="#262626" stroke-width="0.15" textLength="14.00" lengthAdjust="spacingAndGlyphs">25</text>
<text x="85.05000000000001" y="933.35" font-size="11.44" text-anchor="middle" fill="#262626" stroke="#262626" stroke-width="0.15" textLength="41.94" lengthAdjust="spacingAndGlyphs">27.08%</text>
<text x="85.05000000000001" y="945.8" font-size="11.44" text-anchor="middle" fill="#262626" stroke="#262626" stroke-width="0.15" textLength="14.56" lengthAdjust="spacingAndGlyphs">FN</text>
<rect x="125.9" y="894.4" width="81.7" height="71.4" fill="#0c56a0"/>
<text x="166.75" y="920.9" font-size="11.44" text-anchor="middle" fill="#fff" stroke="#fff" stroke-width="0.15" textLength="14.00" lengthAdjust="spacingAndGlyphs">66</text>
<text x="166.75" y="933.35" font-size="11.44" text-anchor="middle" fill="#fff" stroke="#fff" stroke-width="0.15" textLength="41.94" lengthAdjust="spacingAndGlyphs">72.92%</text>
<text x="166.75" y="945.8" font-size="11.44" text-anchor="middle" fill="#fff" stroke="#fff" stroke-width="0.15" textLength="13.35" lengthAdjust="spacingAndGlyphs">TP</text>
<defs><linearGradient id="bl" x1="0" y1="1" x2="0" y2="0"><stop offset="0.0" stop-color="#f7fbff"/><stop offset="0.1" stop-color="#e3eef9"/><stop offset="0.2" stop-color="#d0e1f2"/><stop offset="0.3" stop-color="#b7d4ea"/><stop offset="0.4" stop-color="#94c4df"/><stop offset="0.5" stop-color="#6aaed6"/><stop offset="0.6" stop-color="#4a98c9"/><stop offset="0.7" stop-color="#2e7ebc"/><stop offset="0.8" stop-color="#1764ab"/><stop offset="0.9" stop-color="#084a91"/><stop offset="1.0" stop-color="#08306b"/></linearGradient></defs>
<rect x="218" y="823" width="7" height="142.8" fill="url(#bl)"/>
<line x1="225" y1="823.4" x2="227.5" y2="823.4" stroke="#333" stroke-width="1"/>
<text x="229.6" y="827.1" font-size="10.40" text-anchor="start" fill="#1a1a1a" stroke="#1a1a1a" stroke-width="0.2" textLength="38.13" lengthAdjust="spacingAndGlyphs">82.27%</text>
<line x1="225" y1="859.05" x2="227.5" y2="859.05" stroke="#333" stroke-width="1"/>
<text x="229.6" y="862.75" font-size="10.40" text-anchor="start" fill="#1a1a1a" stroke="#1a1a1a" stroke-width="0.2" textLength="38.13" lengthAdjust="spacingAndGlyphs">66.13%</text>
<line x1="225" y1="894.6999999999999" x2="227.5" y2="894.6999999999999" stroke="#333" stroke-width="1"/>
<text x="229.6" y="898.4" font-size="10.40" text-anchor="start" fill="#1a1a1a" stroke="#1a1a1a" stroke-width="0.2" textLength="38.13" lengthAdjust="spacingAndGlyphs">50.00%</text>
<line x1="225" y1="930.3499999999999" x2="227.5" y2="930.3499999999999" stroke="#333" stroke-width="1"/>
<text x="229.6" y="934.05" font-size="10.40" text-anchor="start" fill="#1a1a1a" stroke="#1a1a1a" stroke-width="0.2" textLength="38.13" lengthAdjust="spacingAndGlyphs">33.86%</text>
<line x1="225" y1="966.0" x2="227.5" y2="966.0" stroke="#333" stroke-width="1"/>
<text x="229.6" y="969.7" font-size="10.40" text-anchor="start" fill="#1a1a1a" stroke="#1a1a1a" stroke-width="0.2" textLength="38.13" lengthAdjust="spacingAndGlyphs">17.73%</text>
<line x1="85.1" y1="965.8" x2="85.1" y2="968.5" stroke="#333" stroke-width="1"/>
<text x="85.1" y="977.8" font-size="10.40" text-anchor="middle" fill="#1a1a1a" stroke="#1a1a1a" stroke-width="0.2" textLength="33.74" lengthAdjust="spacingAndGlyphs">Not hit</text>
<line x1="167.1" y1="965.8" x2="167.1" y2="968.5" stroke="#333" stroke-width="1"/>
<text x="167.1" y="977.8" font-size="10.40" text-anchor="middle" fill="#1a1a1a" stroke="#1a1a1a" stroke-width="0.2" textLength="14.22" lengthAdjust="spacingAndGlyphs">Hit</text>
<text x="126" y="989.6" font-size="11.23" text-anchor="middle" fill="#1a1a1a" stroke="#1a1a1a" stroke-width="0.2" textLength="80.25" lengthAdjust="spacingAndGlyphs">Predicted label</text>
<line x1="41.2" y1="858.5" x2="44.2" y2="858.5" stroke="#333" stroke-width="1"/>
<text transform="translate(38.5,854.3) rotate(-90)" font-size="10.40" text-anchor="end" fill="#1a1a1a" stroke="#1a1a1a" stroke-width="0.2" textLength="33.74" lengthAdjust="spacingAndGlyphs">Not hit</text>
<line x1="41.2" y1="930.2" x2="44.2" y2="930.2" stroke="#333" stroke-width="1"/>
<text transform="translate(38.5,926.0) rotate(-90)" font-size="10.40" text-anchor="end" fill="#1a1a1a" stroke="#1a1a1a" stroke-width="0.2" textLength="14.22" lengthAdjust="spacingAndGlyphs">Hit</text>
<text transform="translate(26,893.6) rotate(-90)" font-size="11.65" text-anchor="middle" fill="#1a1a1a" stroke="#1a1a1a" stroke-width="0.2" textLength="54.44" lengthAdjust="spacingAndGlyphs">True label</text>
<text x="413.4" y="452.6" font-size="17" text-anchor="start" font-weight="bold" fill="#000" >d</text>
<text x="610.9" y="443.8" font-size="10.40" text-anchor="middle" fill="#1a1a1a" stroke="#1a1a1a" stroke-width="0.2" textLength="138.23" lengthAdjust="spacingAndGlyphs">Local explanation summary</text>
<line x1="508" y1="462.0" x2="720" y2="462.0" stroke="#bbb" stroke-width="0.7" stroke-dasharray="1,1.5" opacity="0.3"/>
<text x="504.2" y="466.0" font-size="10.40" text-anchor="end" fill="#1a1a1a" stroke="#1a1a1a" stroke-width="0.2" textLength="80.55" lengthAdjust="spacingAndGlyphs">TSS PC distance</text>
<line x1="508" y1="478.06" x2="720" y2="478.06" stroke="#bbb" stroke-width="0.7" stroke-dasharray="1,1.5" opacity="0.3"/>
<text x="509.9" y="482.22" font-size="10.40" text-anchor="end" fill="#1a1a1a" stroke="#1a1a1a" stroke-width="0.2" textLength="81.24" lengthAdjust="spacingAndGlyphs">Expression level</text>
<line x1="508" y1="494.12" x2="720" y2="494.12" stroke="#bbb" stroke-width="0.7" stroke-dasharray="1,1.5" opacity="0.3"/>
<text x="504.5" y="498.44" font-size="10.40" text-anchor="end" fill="#1a1a1a" stroke="#1a1a1a" stroke-width="0.2" textLength="73.24" lengthAdjust="spacingAndGlyphs">Number of TFs</text>
<line x1="508" y1="510.18" x2="720" y2="510.18" stroke="#bbb" stroke-width="0.7" stroke-dasharray="1,1.5" opacity="0.3"/>
<text x="504.5" y="514.66" font-size="10.40" text-anchor="end" fill="#1a1a1a" font-style="italic" stroke="#1a1a1a" stroke-width="0.2" textLength="29.98" lengthAdjust="spacingAndGlyphs">SIN3A</text>
<line x1="508" y1="526.24" x2="720" y2="526.24" stroke="#bbb" stroke-width="0.7" stroke-dasharray="1,1.5" opacity="0.3"/>
<text x="508.8" y="530.88" font-size="10.40" text-anchor="end" fill="#1a1a1a" stroke="#1a1a1a" stroke-width="0.2" textLength="119.05" lengthAdjust="spacingAndGlyphs">Near FANTOM enhancer</text>
<line x1="508" y1="542.3" x2="720" y2="542.3" stroke="#bbb" stroke-width="0.7" stroke-dasharray="1,1.5" opacity="0.3"/>
<text x="504.5" y="547.1" font-size="10.40" text-anchor="end" fill="#1a1a1a" stroke="#1a1a1a" stroke-width="0.2" textLength="80.83" lengthAdjust="spacingAndGlyphs">Within <tspan font-style="italic">Pol2</tspan> loop</text>
<line x1="508" y1="558.36" x2="720" y2="558.36" stroke="#bbb" stroke-width="0.7" stroke-dasharray="1,1.5" opacity="0.3"/>
<text x="504.5" y="563.3199999999999" font-size="10.40" text-anchor="end" fill="#1a1a1a" stroke="#1a1a1a" stroke-width="0.2" textLength="84.14" lengthAdjust="spacingAndGlyphs">Transcript length</text>
<line x1="508" y1="574.42" x2="720" y2="574.42" stroke="#bbb" stroke-width="0.7" stroke-dasharray="1,1.5" opacity="0.3"/>
<text x="504.5" y="579.54" font-size="10.40" text-anchor="end" fill="#1a1a1a" stroke="#1a1a1a" stroke-width="0.2" textLength="103.23" lengthAdjust="spacingAndGlyphs">Locus locus distance</text>
<line x1="508" y1="590.48" x2="720" y2="590.48" stroke="#bbb" stroke-width="0.7" stroke-dasharray="1,1.5" opacity="0.3"/>
<text x="504.5" y="595.76" font-size="10.40" text-anchor="end" fill="#1a1a1a" font-style="italic" stroke="#1a1a1a" stroke-width="0.2" textLength="24.15" lengthAdjust="spacingAndGlyphs">TAF1</text>
<line x1="508" y1="606.54" x2="720" y2="606.54" stroke="#bbb" stroke-width="0.7" stroke-dasharray="1,1.5" opacity="0.3"/>
<text x="504.5" y="611.98" font-size="10.40" text-anchor="end" fill="#1a1a1a" stroke="#1a1a1a" stroke-width="0.2" textLength="85.37" lengthAdjust="spacingAndGlyphs">Within <tspan font-style="italic">CTCF</tspan> loop</text>
<line x1="508" y1="622.6" x2="720" y2="622.6" stroke="#bbb" stroke-width="0.7" stroke-dasharray="1,1.5" opacity="0.3"/>
<text x="504.5" y="628.2" font-size="10.40" text-anchor="end" fill="#1a1a1a" stroke="#1a1a1a" stroke-width="0.2" textLength="59.57" lengthAdjust="spacingAndGlyphs">Is antisense</text>
<line x1="508" y1="638.66" x2="720" y2="638.66" stroke="#bbb" stroke-width="0.7" stroke-dasharray="1,1.5" opacity="0.3"/>
<text x="508" y="644.42" font-size="10.40" text-anchor="end" fill="#1a1a1a" stroke="#1a1a1a" stroke-width="0.2" textLength="128.63" lengthAdjust="spacingAndGlyphs">Near traditional enhancer</text>
<line x1="508" y1="654.72" x2="720" y2="654.72" stroke="#bbb" stroke-width="0.7" stroke-dasharray="1,1.5" opacity="0.3"/>
<text x="504.5" y="660.64" font-size="10.40" text-anchor="end" fill="#1a1a1a" font-style="italic" stroke="#1a1a1a" stroke-width="0.2" textLength="25.66" lengthAdjust="spacingAndGlyphs">PHF8</text>
<line x1="508" y1="670.78" x2="720" y2="670.78" stroke="#bbb" stroke-width="0.7" stroke-dasharray="1,1.5" opacity="0.3"/>
<text x="504.5" y="676.86" font-size="10.40" text-anchor="end" fill="#1a1a1a" font-style="italic" stroke="#1a1a1a" stroke-width="0.2" textLength="33.06" lengthAdjust="spacingAndGlyphs">RBBP5</text>
<line x1="508" y1="686.8399999999999" x2="720" y2="686.8399999999999" stroke="#bbb" stroke-width="0.7" stroke-dasharray="1,1.5" opacity="0.3"/>
<text x="504.5" y="693.0799999999999" font-size="10.40" text-anchor="end" fill="#1a1a1a" stroke="#1a1a1a" stroke-width="0.2" textLength="85.42" lengthAdjust="spacingAndGlyphs">Number of exons</text>
<line x1="508" y1="702.9" x2="720" y2="702.9" stroke="#bbb" stroke-width="0.7" stroke-dasharray="1,1.5" opacity="0.3"/>
<text x="504.5" y="709.3" font-size="10.40" text-anchor="end" fill="#1a1a1a" stroke="#1a1a1a" stroke-width="0.2" textLength="89.48" lengthAdjust="spacingAndGlyphs">Locus is amplified</text>
<line x1="508" y1="718.96" x2="720" y2="718.96" stroke="#bbb" stroke-width="0.7" stroke-dasharray="1,1.5" opacity="0.3"/>
<text x="504.5" y="725.52" font-size="10.40" text-anchor="end" fill="#1a1a1a" font-style="italic" stroke="#1a1a1a" stroke-width="0.2" textLength="18.58" lengthAdjust="spacingAndGlyphs">YY1</text>
<line x1="508" y1="735.02" x2="720" y2="735.02" stroke="#bbb" stroke-width="0.7" stroke-dasharray="1,1.5" opacity="0.3"/>
<text x="504.5" y="741.74" font-size="10.40" text-anchor="end" fill="#1a1a1a" font-style="italic" stroke="#1a1a1a" stroke-width="0.2" textLength="31.94" lengthAdjust="spacingAndGlyphs">SAP30</text>
<line x1="508" y1="751.0799999999999" x2="720" y2="751.0799999999999" stroke="#bbb" stroke-width="0.7" stroke-dasharray="1,1.5" opacity="0.3"/>
<text x="504.5" y="757.96" font-size="10.40" text-anchor="end" fill="#1a1a1a" font-style="italic" stroke="#1a1a1a" stroke-width="0.2" textLength="24.80" lengthAdjust="spacingAndGlyphs">E2F6</text>
<line x1="508" y1="767.14" x2="720" y2="767.14" stroke="#bbb" stroke-width="0.7" stroke-dasharray="1,1.5" opacity="0.3"/>
<text x="504.5" y="774.18" font-size="10.40" text-anchor="end" fill="#1a1a1a" font-style="italic" stroke="#1a1a1a" stroke-width="0.2" textLength="36.11" lengthAdjust="spacingAndGlyphs">KDM5B</text>
<line x1="614.3" y1="445" x2="614.3" y2="782.7" stroke="#777" stroke-width="0.8" stroke-dasharray="2.5,1.5"/>
<line x1="507.5" y1="783.1" x2="716" y2="783.1" stroke="#333" stroke-width="1.2"/>
<line x1="524.6" y1="783.1" x2="524.6" y2="786" stroke="#333" stroke-width="1"/>
<text x="524.6" y="795.0" font-size="8.42" text-anchor="middle" fill="#1a1a1a" stroke="#1a1a1a" stroke-width="0.2" textLength="19.67" lengthAdjust="spacingAndGlyphs">−1.5</text>
<line x1="554.5" y1="783.1" x2="554.5" y2="786" stroke="#333" stroke-width="1"/>
<text x="554.5" y="795.0" font-size="8.42" text-anchor="middle" fill="#1a1a1a" stroke="#1a1a1a" stroke-width="0.2" textLength="19.67" lengthAdjust="spacingAndGlyphs">−1.0</text>
<line x1="584.4" y1="783.1" x2="584.4" y2="786" stroke="#333" stroke-width="1"/>
<text x="584.4" y="795.0" font-size="8.42" text-anchor="middle" fill="#1a1a1a" stroke="#1a1a1a" stroke-width="0.2" textLength="19.67" lengthAdjust="spacingAndGlyphs">−0.5</text>
<line x1="614.3" y1="783.1" x2="614.3" y2="786" stroke="#333" stroke-width="1"/>
<text x="614.3" y="795.0" font-size="8.42" text-anchor="middle" fill="#1a1a1a" stroke="#1a1a1a" stroke-width="0.2" textLength="12.88" lengthAdjust="spacingAndGlyphs">0.0</text>
<line x1="644.2" y1="783.1" x2="644.2" y2="786" stroke="#333" stroke-width="1"/>
<text x="644.2" y="795.0" font-size="8.42" text-anchor="middle" fill="#1a1a1a" stroke="#1a1a1a" stroke-width="0.2" textLength="12.88" lengthAdjust="spacingAndGlyphs">0.5</text>
<line x1="674.1" y1="783.1" x2="674.1" y2="786" stroke="#333" stroke-width="1"/>
<text x="674.1" y="795.0" font-size="8.42" text-anchor="middle" fill="#1a1a1a" stroke="#1a1a1a" stroke-width="0.2" textLength="12.88" lengthAdjust="spacingAndGlyphs">1.0</text>
<line x1="704.0" y1="783.1" x2="704.0" y2="786" stroke="#333" stroke-width="1"/>
<text x="704.0" y="795.0" font-size="8.42" text-anchor="middle" fill="#1a1a1a" stroke="#1a1a1a" stroke-width="0.2" textLength="12.88" lengthAdjust="spacingAndGlyphs">1.5</text>
<text x="611.7" y="808.3" font-size="10.40" text-anchor="middle" fill="#1a1a1a" stroke="#1a1a1a" stroke-width="0.2" textLength="188.74" lengthAdjust="spacingAndGlyphs">SHAP value (impact on model output)</text>
<defs><linearGradient id="sh" x1="0" y1="1" x2="0" y2="0"><stop offset="0.000" stop-color="#008bfb"/><stop offset="0.030" stop-color="#0086fa"/><stop offset="0.061" stop-color="#0082f8"/><stop offset="0.091" stop-color="#007ef6"/><stop offset="0.121" stop-color="#0079f3"/><stop offset="0.152" stop-color="#0074f0"/><stop offset="0.182" stop-color="#006fed"/><stop offset="0.212" stop-color="#306ae9"/><stop offset="0.242" stop-color="#4664e4"/><stop offset="0.273" stop-color="#575fdf"/><stop offset="0.303" stop-color="#6459da"/><stop offset="0.333" stop-color="#6f52d4"/><stop offset="0.364" stop-color="#794cce"/><stop offset="0.394" stop-color="#8244c7"/><stop offset="0.424" stop-color="#8a3cc0"/><stop offset="0.455" stop-color="#9233b9"/><stop offset="0.485" stop-color="#9829b1"/><stop offset="0.515" stop-color="#a01fab"/><stop offset="0.545" stop-color="#aa17a7"/><stop offset="0.576" stop-color="#b30aa3"/><stop offset="0.606" stop-color="#bc009f"/><stop offset="0.636" stop-color="#c5009a"/><stop offset="0.667" stop-color="#cd0095"/><stop offset="0.697" stop-color="#d40090"/><stop offset="0.727" stop-color="#db008a"/><stop offset="0.758" stop-color="#e10084"/><stop offset="0.788" stop-color="#e7007e"/><stop offset="0.818" stop-color="#ec0078"/><stop offset="0.848" stop-color="#f10072"/><stop offset="0.879" stop-color="#f6006c"/><stop offset="0.909" stop-color="#fa0065"/><stop offset="0.939" stop-color="#fd005f"/><stop offset="0.970" stop-color="#ff0058"/><stop offset="1.000" stop-color="#ff0051"/><stop offset="1" stop-color="#ff0051"/></linearGradient></defs>
<rect x="722.8" y="446" width="3.0" height="336.8" fill="url(#sh)"/>
<text x="728.8" y="450.2" font-size="8.53" text-anchor="start" fill="#1a1a1a" stroke="#1a1a1a" stroke-width="0.2" textLength="18.85" lengthAdjust="spacingAndGlyphs">High</text>
<text x="728.8" y="786.4" font-size="8.63" text-anchor="start" fill="#1a1a1a" stroke="#1a1a1a" stroke-width="0.2" textLength="16.34" lengthAdjust="spacingAndGlyphs">Low</text>
<text transform="translate(738.8,614.2) rotate(-90)" font-size="9.57" text-anchor="middle" fill="#1a1a1a" stroke="#1a1a1a" stroke-width="0.2" textLength="62.82" lengthAdjust="spacingAndGlyphs">Feature value</text>
<g opacity="0.9">
<defs><linearGradient id="g288"><stop offset="0" stop-color="#ff0058"/><stop offset="1" stop-color="#ff0058"/></linearGradient></defs>
<rect x="518.8" y="460.20" width="14.200000000000045" height="3.6" rx="1.8" fill="url(#g288)" opacity="1.0"/>
<rect x="526.1" y="460.20" width="2.1" height="3.6" fill="#007cf5" opacity="0.75"/>
<rect x="530.3" y="460.20" width="1.9" height="3.6" fill="#007cf5" opacity="0.75"/>
<defs><linearGradient id="g292"><stop offset="0" stop-color="#0086fa"/><stop offset="1" stop-color="#0086fa"/></linearGradient></defs>
<rect x="532" y="460.20" width="14" height="3.6" rx="1.8" fill="url(#g292)" opacity="1.0"/>
<path d="M539.0,460.1 L539.9,460.0 L540.7,459.8 L541.6,459.5 L542.4,459.1 L543.3,458.7 L544.1,458.6 L545.0,458.2 L545.8,457.9 L546.7,457.4 L547.5,457.5 L548.4,456.9 L549.2,456.5 L550.1,456.5 L550.9,455.9 L551.8,455.5 L552.6,455.7 L553.5,454.7 L554.3,454.8 L555.2,454.6 L556.0,454.7 L556.9,454.2 L557.8,454.5 L558.6,454.9 L559.5,454.4 L560.3,454.1 L561.2,454.7 L562.0,454.8 L562.9,454.6 L563.7,453.9 L564.6,453.9 L565.4,454.2 L566.3,454.0 L567.1,454.0 L568.0,454.6 L568.8,454.9 L569.7,454.3 L570.5,454.4 L571.4,454.6 L572.2,454.8 L573.1,454.6 L574.0,454.5 L574.8,454.7 L575.7,454.7 L576.5,454.5 L577.4,454.0 L578.2,454.3 L579.1,454.7 L579.9,455.2 L580.8,455.4 L581.6,456.1 L582.5,456.5 L583.3,456.6 L584.2,457.0 L585.0,456.8 L585.9,456.9 L586.7,456.9 L587.6,457.3 L588.4,458.0 L589.3,458.7 L590.1,459.4 L591.0,459.8 L591.0,464.2 L590.1,464.6 L589.3,465.0 L588.4,465.9 L587.6,466.3 L586.7,466.8 L585.9,466.9 L585.0,467.4 L584.2,466.9 L583.3,467.2 L582.5,467.1 L581.6,468.0 L580.8,468.3 L579.9,469.0 L579.1,468.9 L578.2,469.3 L577.4,469.3 L576.5,469.5 L575.7,469.0 L574.8,468.8 L574.0,469.0 L573.1,469.6 L572.2,468.7 L571.4,469.0 L570.5,469.7 L569.7,469.6 L568.8,468.4 L568.0,469.5 L567.1,469.6 L566.3,469.6 L565.4,469.7 L564.6,469.8 L563.7,469.6 L562.9,469.1 L562.0,468.8 L561.2,469.2 L560.3,469.6 L559.5,469.1 L558.6,469.5 L557.8,469.5 L556.9,469.1 L556.0,468.6 L555.2,469.5 L554.3,469.3 L553.5,468.9 L552.6,468.3 L551.8,468.3 L550.9,468.1 L550.1,467.0 L549.2,467.4 L548.4,467.0 L547.5,466.1 L546.7,466.5 L545.8,465.9 L545.0,465.4 L544.1,465.4 L543.3,465.3 L542.4,465.1 L541.6,464.4 L540.7,464.1 L539.9,464.1 L539.0,463.8Z" fill="#007cf5" opacity="0.92"/>
<circle cx="549.8" cy="460.2" r="1.02" fill="#e9007c" opacity="0.7"/>
<circle cx="571.8" cy="465.4" r="0.84" fill="#e9007c" opacity="0.7"/>
<circle cx="547.2" cy="460.6" r="1.02" fill="#e9007c" opacity="0.7"/>
<circle cx="554.0" cy="460.3" r="0.87" fill="#e9007c" opacity="0.7"/>
<circle cx="561.1" cy="460.9" r="1.07" fill="#e9007c" opacity="0.7"/>
<circle cx="548.5" cy="458.2" r="1.08" fill="#e9007c" opacity="0.7"/>
<circle cx="583.2" cy="466.0" r="0.87" fill="#e9007c" opacity="0.7"/>
<circle cx="586.6" cy="465.2" r="0.79" fill="#e9007c" opacity="0.7"/>
<circle cx="576.8" cy="465.8" r="0.97" fill="#e9007c" opacity="0.7"/>
<circle cx="565.9" cy="459.5" r="0.84" fill="#e9007c" opacity="0.7"/>
<circle cx="551.9" cy="457.8" r="0.94" fill="#e9007c" opacity="0.7"/>
<circle cx="554.8" cy="465.4" r="0.72" fill="#e9007c" opacity="0.7"/>
<circle cx="584.4" cy="463.4" r="1.07" fill="#e9007c" opacity="0.7"/>
<circle cx="584.0" cy="465.3" r="0.93" fill="#e9007c" opacity="0.7"/>
<circle cx="541.6" cy="462.9" r="0.77" fill="#e9007c" opacity="0.7"/>
<circle cx="555.4" cy="463.8" r="0.91" fill="#e9007c" opacity="0.7"/>
<circle cx="560.9" cy="467.2" r="0.94" fill="#e9007c" opacity="0.7"/>
<circle cx="557.4" cy="459.1" r="1.04" fill="#e9007c" opacity="0.7"/>
<circle cx="563.9" cy="465.4" r="0.84" fill="#e9007c" opacity="0.7"/>
<circle cx="550.5" cy="462.3" r="1.03" fill="#e9007c" opacity="0.7"/>
<circle cx="549.2" cy="464.2" r="1.07" fill="#e9007c" opacity="0.7"/>
<circle cx="579.7" cy="465.5" r="0.70" fill="#e9007c" opacity="0.7"/>
<circle cx="571.2" cy="466.1" r="0.72" fill="#e9007c" opacity="0.7"/>
<circle cx="554.0" cy="459.5" r="0.91" fill="#e9007c" opacity="0.7"/>
<circle cx="561.3" cy="461.7" r="1.01" fill="#e9007c" opacity="0.7"/>
<circle cx="541.1" cy="460.5" r="0.75" fill="#e9007c" opacity="0.7"/>
<circle cx="547.0" cy="459.0" r="1.09" fill="#e9007c" opacity="0.7"/>
<circle cx="582.0" cy="458.4" r="0.90" fill="#e9007c" opacity="0.7"/>
<circle cx="556.2" cy="460.0" r="0.84" fill="#e9007c" opacity="0.7"/>
<circle cx="572.1" cy="463.0" r="0.84" fill="#e9007c" opacity="0.7"/>
<circle cx="550.2" cy="460.6" r="0.75" fill="#e9007c" opacity="0.7"/>
<circle cx="567.7" cy="464.6" r="0.85" fill="#e9007c" opacity="0.7"/>
<circle cx="544.8" cy="460.3" r="0.85" fill="#e9007c" opacity="0.7"/>
<circle cx="570.0" cy="465.3" r="0.85" fill="#e9007c" opacity="0.7"/>
<circle cx="579.5" cy="463.3" r="0.87" fill="#e9007c" opacity="0.7"/>
<circle cx="558.9" cy="462.0" r="0.98" fill="#e9007c" opacity="0.7"/>
<circle cx="561.2" cy="464.1" r="0.88" fill="#e9007c" opacity="0.7"/>
<circle cx="552.8" cy="462.3" r="0.98" fill="#e9007c" opacity="0.7"/>
<circle cx="544.4" cy="461.6" r="0.87" fill="#e9007c" opacity="0.7"/>
<circle cx="583.2" cy="465.6" r="0.85" fill="#e9007c" opacity="0.7"/>
<circle cx="584.1" cy="464.4" r="0.80" fill="#e9007c" opacity="0.7"/>
<circle cx="563.3" cy="457.8" r="1.03" fill="#e9007c" opacity="0.7"/>
<circle cx="572.8" cy="466.2" r="1.02" fill="#e9007c" opacity="0.7"/>
<circle cx="573.0" cy="464.5" r="0.93" fill="#e9007c" opacity="0.7"/>
<circle cx="546.0" cy="462.5" r="0.70" fill="#e9007c" opacity="0.7"/>
<circle cx="547.9" cy="463.9" r="0.72" fill="#e9007c" opacity="0.7"/>
<circle cx="545.4" cy="459.7" r="1.05" fill="#e9007c" opacity="0.7"/>
<circle cx="549.6" cy="458.1" r="1.04" fill="#e9007c" opacity="0.7"/>
<circle cx="546.8" cy="464.4" r="0.97" fill="#e9007c" opacity="0.7"/>
<circle cx="581.1" cy="466.5" r="0.93" fill="#e9007c" opacity="0.7"/>
<circle cx="579.3" cy="457.0" r="1.01" fill="#e9007c" opacity="0.7"/>
<circle cx="565.5" cy="464.5" r="0.74" fill="#e9007c" opacity="0.7"/>
<circle cx="577.0" cy="466.9" r="0.72" fill="#e9007c" opacity="0.7"/>
<circle cx="556.6" cy="462.7" r="1.03" fill="#e9007c" opacity="0.7"/>
<circle cx="552.6" cy="458.9" r="0.80" fill="#e9007c" opacity="0.7"/>
<circle cx="570.6" cy="464.9" r="0.86" fill="#e9007c" opacity="0.7"/>
<circle cx="558.6" cy="460.9" r="0.84" fill="#e9007c" opacity="0.7"/>
<circle cx="561.1" cy="457.1" r="0.90" fill="#e9007c" opacity="0.7"/>
<circle cx="587.7" cy="461.4" r="1.00" fill="#e9007c" opacity="0.7"/>
<circle cx="548.7" cy="463.4" r="1.00" fill="#e9007c" opacity="0.7"/>
<circle cx="573.3" cy="462.2" r="0.89" fill="#e9007c" opacity="0.7"/>
<circle cx="571.9" cy="466.4" r="0.76" fill="#e9007c" opacity="0.7"/>
<circle cx="545.6" cy="463.4" r="1.07" fill="#e9007c" opacity="0.7"/>
<circle cx="565.8" cy="461.3" r="0.99" fill="#e9007c" opacity="0.7"/>
<circle cx="549.9" cy="460.1" r="0.78" fill="#e9007c" opacity="0.7"/>
<circle cx="569.1" cy="460.0" r="0.79" fill="#e9007c" opacity="0.7"/>
<circle cx="574.2" cy="467.1" r="0.82" fill="#e9007c" opacity="0.7"/>
<circle cx="574.9" cy="461.1" r="1.04" fill="#e9007c" opacity="0.7"/>
<circle cx="569.1" cy="459.5" r="0.79" fill="#e9007c" opacity="0.7"/>
<circle cx="542.1" cy="461.9" r="0.85" fill="#e9007c" opacity="0.7"/>
<defs><linearGradient id="g365"><stop offset="0" stop-color="#ff0058"/><stop offset="1" stop-color="#f80067"/></linearGradient></defs>
<rect x="589" y="460.20" width="11" height="3.6" rx="1.8" fill="url(#g365)" opacity="1.0"/>
<rect x="591.4" y="460.20" width="1.7" height="3.6" fill="#0086fa" opacity="0.75"/>
<defs><linearGradient id="g368"><stop offset="0" stop-color="#0086fa"/><stop offset="1" stop-color="#0086fa"/></linearGradient></defs>
<rect x="599.6" y="460.20" width="2.3999999999999773" height="3.6" rx="1.8" fill="url(#g368)" opacity="1.0"/>
<defs><linearGradient id="g370"><stop offset="0" stop-color="#ff0058"/><stop offset="1" stop-color="#ff0058"/></linearGradient></defs>
<rect x="601" y="460.20" width="6" height="3.6" rx="1.8" fill="url(#g370)" opacity="1.0"/>
<defs><linearGradient id="g372"><stop offset="0" stop-color="#0088fa"/><stop offset="1" stop-color="#0082f8"/></linearGradient></defs>
<rect x="606" y="460.20" width="102.39999999999998" height="3.6" rx="1.8" fill="url(#g372)" opacity="1.0"/>
<path d="M650.0,460.1 L650.9,460.0 L651.7,460.0 L652.6,459.9 L653.4,459.9 L654.3,459.8 L655.1,459.6 L656.0,459.7 L656.9,459.5 L657.7,459.5 L658.6,459.4 L659.4,459.4 L660.3,459.3 L661.1,459.4 L662.0,459.4 L662.9,459.3 L663.7,459.3 L664.6,459.3 L665.4,459.2 L666.3,459.1 L667.1,459.2 L668.0,458.9 L668.9,459.0 L669.7,459.1 L670.6,459.0 L671.4,459.3 L672.3,459.0 L673.1,459.1 L674.0,459.2 L674.9,459.3 L675.7,459.2 L676.6,459.2 L677.4,459.3 L678.3,459.2 L679.1,459.3 L680.0,459.4 L680.9,459.3 L681.7,459.4 L682.6,459.4 L683.4,459.2 L684.3,459.1 L685.1,459.0 L686.0,459.1 L686.9,459.2 L687.7,459.4 L688.6,459.3 L689.4,459.1 L690.3,459.2 L691.1,459.4 L692.0,459.5 L692.9,459.6 L693.7,459.7 L694.6,459.8 L695.4,459.7 L696.3,459.8 L697.1,460.0 L698.0,460.0 L698.9,460.1 L699.7,460.1 L700.6,460.1 L701.4,460.2 L702.3,460.2 L703.1,460.3 L704.0,460.3 L704.0,463.7 L703.1,463.6 L702.3,463.8 L701.4,463.9 L700.6,463.8 L699.7,464.0 L698.9,463.8 L698.0,464.1 L697.1,464.1 L696.3,464.0 L695.4,464.3 L694.6,464.1 L693.7,464.1 L692.9,464.4 L692.0,464.4 L691.1,464.7 L690.3,464.7 L689.4,464.7 L688.6,464.7 L687.7,464.5 L686.9,464.7 L686.0,464.6 L685.1,465.0 L684.3,464.8 L683.4,464.7 L682.6,464.5 L681.7,464.7 L680.9,464.5 L680.0,464.4 L679.1,464.8 L678.3,464.7 L677.4,464.6 L676.6,464.9 L675.7,464.7 L674.9,464.8 L674.0,464.9 L673.1,464.9 L672.3,464.8 L671.4,464.6 L670.6,464.8 L669.7,464.7 L668.9,465.1 L668.0,465.3 L667.1,464.8 L666.3,465.0 L665.4,464.6 L664.6,464.6 L663.7,464.7 L662.9,464.8 L662.0,464.7 L661.1,464.5 L660.3,464.8 L659.4,464.6 L658.6,464.6 L657.7,464.5 L656.9,464.5 L656.0,464.3 L655.1,464.3 L654.3,464.1 L653.4,464.0 L652.6,464.2 L651.7,463.8 L650.9,464.0 L650.0,463.8Z" fill="#0079f3" opacity="0.45"/>
<defs><linearGradient id="g375"><stop offset="0" stop-color="#0085f9"/><stop offset="1" stop-color="#007cf5"/></linearGradient></defs>
<rect x="516" y="476.36" width="42" height="3.4" rx="1.7" fill="url(#g375)" opacity="1.0"/>
<rect x="542.5" y="476.36" width="2.3" height="3.4" fill="#008bfb" opacity="0.75"/>
<rect x="527.4" y="476.36" width="2.3" height="3.4" fill="#008bfb" opacity="0.75"/>
<rect x="554.5" y="476.36" width="2.1" height="3.4" fill="#008bfb" opacity="0.75"/>
<rect x="537.9" y="476.36" width="1.4" height="3.4" fill="#008bfb" opacity="0.75"/>
<rect x="536.3" y="476.36" width="1.7" height="3.4" fill="#008bfb" opacity="0.75"/>
<path d="M556.0,476.5 L556.9,476.1 L557.8,476.1 L558.7,476.0 L559.6,475.9 L560.5,474.8 L561.5,475.3 L562.4,475.2 L563.3,475.9 L564.2,476.0 L565.1,476.0 L566.0,476.5 L566.0,479.5 L565.1,480.2 L564.2,479.9 L563.3,480.2 L562.4,481.0 L561.5,480.6 L560.5,481.3 L559.6,480.2 L558.7,479.9 L557.8,480.0 L556.9,480.0 L556.0,479.7Z" fill="#007cf5" opacity="0.9"/>
<path d="M562.0,476.1 L562.9,476.0 L563.7,475.7 L564.6,475.6 L565.5,475.1 L566.3,475.0 L567.2,474.3 L568.1,473.8 L568.9,473.4 L569.8,473.3 L570.6,472.5 L571.5,472.9 L572.4,472.5 L573.2,472.4 L574.1,471.9 L575.0,472.9 L575.8,472.4 L576.7,472.8 L577.6,473.1 L578.4,473.9 L579.3,474.3 L580.2,474.5 L581.0,474.2 L581.9,474.1 L582.8,474.1 L583.6,474.0 L584.5,474.0 L585.4,473.5 L586.2,473.5 L587.1,474.3 L587.9,474.4 L588.8,474.5 L589.7,474.9 L590.5,475.5 L591.4,475.8 L592.3,476.0 L593.1,476.2 L594.0,476.3 L594.0,479.8 L593.1,479.9 L592.3,480.0 L591.4,480.2 L590.5,480.7 L589.7,481.3 L588.8,481.4 L587.9,481.4 L587.1,481.6 L586.2,482.2 L585.4,482.7 L584.5,481.9 L583.6,482.2 L582.8,482.0 L581.9,481.9 L581.0,481.7 L580.2,481.5 L579.3,481.9 L578.4,481.9 L577.6,482.9 L576.7,482.8 L575.8,483.9 L575.0,483.0 L574.1,483.9 L573.2,483.5 L572.4,483.6 L571.5,483.1 L570.6,483.7 L569.8,482.9 L568.9,482.3 L568.1,482.0 L567.2,481.6 L566.3,481.0 L565.5,481.0 L564.6,480.5 L563.7,480.4 L562.9,480.1 L562.0,479.9Z" fill="#006fed" opacity="0.92"/>
<circle cx="586.8" cy="479.8" r="0.94" fill="#b900a0" opacity="0.7"/>
<circle cx="568.1" cy="477.4" r="0.78" fill="#b900a0" opacity="0.7"/>
<circle cx="578.8" cy="478.5" r="0.78" fill="#b900a0" opacity="0.7"/>
<circle cx="571.0" cy="480.4" r="0.71" fill="#b900a0" opacity="0.7"/>
<circle cx="586.5" cy="480.7" r="1.08" fill="#b900a0" opacity="0.7"/>
<circle cx="574.7" cy="478.5" r="0.93" fill="#b900a0" opacity="0.7"/>
<circle cx="581.7" cy="480.8" r="0.97" fill="#b900a0" opacity="0.7"/>
<circle cx="572.4" cy="481.0" r="0.89" fill="#b900a0" opacity="0.7"/>
<circle cx="580.8" cy="479.3" r="0.70" fill="#b900a0" opacity="0.7"/>
<circle cx="585.6" cy="479.2" r="0.90" fill="#b900a0" opacity="0.7"/>
<circle cx="578.7" cy="477.8" r="0.78" fill="#b900a0" opacity="0.7"/>
<circle cx="578.8" cy="475.2" r="0.90" fill="#b900a0" opacity="0.7"/>
<circle cx="582.1" cy="477.7" r="0.93" fill="#b900a0" opacity="0.7"/>
<circle cx="590.9" cy="479.6" r="0.75" fill="#b900a0" opacity="0.7"/>
<circle cx="586.2" cy="478.9" r="0.72" fill="#b900a0" opacity="0.7"/>
<circle cx="574.1" cy="475.8" r="0.73" fill="#b900a0" opacity="0.7"/>
<circle cx="579.1" cy="480.7" r="0.83" fill="#b900a0" opacity="0.7"/>
<circle cx="588.4" cy="479.1" r="0.75" fill="#b900a0" opacity="0.7"/>
<circle cx="588.0" cy="478.6" r="1.07" fill="#b900a0" opacity="0.7"/>
<circle cx="584.0" cy="479.5" r="0.84" fill="#b900a0" opacity="0.7"/>
<circle cx="586.6" cy="481.0" r="1.04" fill="#b900a0" opacity="0.7"/>
<circle cx="576.2" cy="480.2" r="0.89" fill="#b900a0" opacity="0.7"/>
<circle cx="567.1" cy="476.0" r="0.73" fill="#b900a0" opacity="0.7"/>
<circle cx="569.6" cy="475.7" r="0.90" fill="#b900a0" opacity="0.7"/>
<circle cx="583.6" cy="478.3" r="0.87" fill="#b900a0" opacity="0.7"/>
<circle cx="582.2" cy="476.9" r="0.89" fill="#b900a0" opacity="0.7"/>
<circle cx="585.2" cy="477.5" r="0.77" fill="#b900a0" opacity="0.7"/>
<circle cx="589.2" cy="479.2" r="0.85" fill="#b900a0" opacity="0.7"/>
<circle cx="574.4" cy="478.3" r="0.94" fill="#b900a0" opacity="0.7"/>
<circle cx="570.3" cy="474.5" r="0.78" fill="#b900a0" opacity="0.7"/>
<circle cx="585.9" cy="475.6" r="0.88" fill="#b900a0" opacity="0.7"/>
<circle cx="569.5" cy="476.0" r="0.77" fill="#b900a0" opacity="0.7"/>
<circle cx="575.3" cy="475.5" r="0.71" fill="#b900a0" opacity="0.7"/>
<circle cx="567.1" cy="476.5" r="0.90" fill="#b900a0" opacity="0.7"/>
<circle cx="565.7" cy="476.0" r="0.88" fill="#b900a0" opacity="0.7"/>
<defs><linearGradient id="g419"><stop offset="0" stop-color="#8542c5"/><stop offset="1" stop-color="#9d22ac"/></linearGradient></defs>
<rect x="592" y="475.96" width="21" height="4.2" rx="2.1" fill="url(#g419)" opacity="1.0"/>
<path d="M596.0,476.5 L596.9,476.1 L597.8,475.7 L598.7,475.9 L599.6,475.1 L600.5,475.1 L601.5,475.5 L602.4,475.1 L603.3,475.5 L604.2,475.7 L605.1,476.3 L606.0,476.5 L606.0,479.6 L605.1,479.7 L604.2,480.4 L603.3,480.4 L602.4,480.9 L601.5,480.7 L600.5,480.8 L599.6,480.9 L598.7,480.1 L597.8,480.2 L596.9,480.0 L596.0,479.6Z" fill="#9233b9" opacity="0.9"/>
<path d="M609.0,475.5 L609.9,475.2 L610.7,474.6 L611.6,474.4 L612.4,473.7 L613.3,473.9 L614.1,474.0 L615.0,474.7 L615.9,474.8 L616.7,475.1 L617.6,474.9 L618.4,474.9 L619.3,474.9 L620.1,474.6 L621.0,474.0 L621.9,473.9 L622.7,473.4 L623.6,472.8 L624.4,472.4 L625.3,471.9 L626.1,471.6 L627.0,471.6 L627.9,471.2 L628.7,471.7 L629.6,471.6 L630.4,471.1 L631.3,472.0 L632.1,472.2 L633.0,472.5 L633.9,472.7 L634.7,473.5 L635.6,473.8 L636.4,473.9 L637.3,474.5 L638.1,474.6 L639.0,474.9 L639.9,475.3 L640.7,475.5 L641.6,475.8 L642.4,476.0 L643.3,476.1 L644.1,476.2 L645.0,476.3 L645.0,479.9 L644.1,479.8 L643.3,480.0 L642.4,480.0 L641.6,480.4 L640.7,480.5 L639.9,480.6 L639.0,481.3 L638.1,481.5 L637.3,481.4 L636.4,481.8 L635.6,482.5 L634.7,482.8 L633.9,483.5 L633.0,483.4 L632.1,484.2 L631.3,483.7 L630.4,485.3 L629.6,484.5 L628.7,483.9 L627.9,484.3 L627.0,484.0 L626.1,484.0 L625.3,483.6 L624.4,483.2 L623.6,483.3 L622.7,482.9 L621.9,482.3 L621.0,481.8 L620.1,481.4 L619.3,481.2 L618.4,481.3 L617.6,481.0 L616.7,480.8 L615.9,481.2 L615.0,481.6 L614.1,482.0 L613.3,482.3 L612.4,482.2 L611.6,481.8 L610.7,481.2 L609.9,480.7 L609.0,480.5Z" fill="#bf009d" opacity="0.85"/>
<circle cx="640.7" cy="476.7" r="1.00" fill="#f80067" opacity="0.7"/>
<circle cx="634.5" cy="480.8" r="0.92" fill="#f80067" opacity="0.7"/>
<circle cx="640.6" cy="477.5" r="0.87" fill="#f80067" opacity="0.7"/>
<circle cx="618.3" cy="479.4" r="0.89" fill="#f80067" opacity="0.7"/>
<circle cx="619.6" cy="476.5" r="0.99" fill="#f80067" opacity="0.7"/>
<circle cx="630.4" cy="480.1" r="0.85" fill="#f80067" opacity="0.7"/>
<circle cx="626.6" cy="474.7" r="0.98" fill="#f80067" opacity="0.7"/>
<circle cx="611.7" cy="477.9" r="1.00" fill="#f80067" opacity="0.7"/>
<circle cx="632.7" cy="474.5" r="0.79" fill="#f80067" opacity="0.7"/>
<circle cx="638.0" cy="478.8" r="1.05" fill="#f80067" opacity="0.7"/>
<circle cx="638.9" cy="477.8" r="1.06" fill="#f80067" opacity="0.7"/>
<circle cx="634.5" cy="476.7" r="0.85" fill="#f80067" opacity="0.7"/>
<circle cx="613.3" cy="477.4" r="1.08" fill="#f80067" opacity="0.7"/>
<circle cx="614.4" cy="478.5" r="0.74" fill="#f80067" opacity="0.7"/>
<circle cx="613.6" cy="479.0" r="0.80" fill="#f80067" opacity="0.7"/>
<circle cx="612.6" cy="475.8" r="0.96" fill="#f80067" opacity="0.7"/>
<circle cx="629.7" cy="473.3" r="0.79" fill="#f80067" opacity="0.7"/>
<circle cx="642.0" cy="477.1" r="0.92" fill="#f80067" opacity="0.7"/>
<circle cx="624.4" cy="480.3" r="0.94" fill="#f80067" opacity="0.7"/>
<circle cx="636.2" cy="478.3" r="0.78" fill="#f80067" opacity="0.7"/>
<circle cx="616.7" cy="476.0" r="1.03" fill="#f80067" opacity="0.7"/>
<circle cx="614.6" cy="475.1" r="1.09" fill="#f80067" opacity="0.7"/>
<circle cx="617.4" cy="479.8" r="0.73" fill="#f80067" opacity="0.7"/>
<circle cx="625.9" cy="475.5" r="1.03" fill="#f80067" opacity="0.7"/>
<circle cx="630.7" cy="479.5" r="1.00" fill="#f80067" opacity="0.7"/>
<circle cx="638.9" cy="477.3" r="0.94" fill="#f80067" opacity="0.7"/>
<circle cx="625.3" cy="474.7" r="1.03" fill="#f80067" opacity="0.7"/>
<circle cx="630.0" cy="481.1" r="0.78" fill="#f80067" opacity="0.7"/>
<circle cx="628.3" cy="477.7" r="0.99" fill="#f80067" opacity="0.7"/>
<circle cx="613.5" cy="477.1" r="0.89" fill="#f80067" opacity="0.7"/>
<circle cx="613.3" cy="478.4" r="0.99" fill="#f80067" opacity="0.7"/>
<circle cx="624.5" cy="479.3" r="0.94" fill="#f80067" opacity="0.7"/>
<circle cx="617.9" cy="477.3" r="1.10" fill="#f80067" opacity="0.7"/>
<circle cx="621.7" cy="477.6" r="0.73" fill="#f80067" opacity="0.7"/>
<circle cx="618.0" cy="476.5" r="1.07" fill="#f80067" opacity="0.7"/>
<circle cx="634.2" cy="481.1" r="1.09" fill="#f80067" opacity="0.7"/>
<circle cx="630.6" cy="482.6" r="0.91" fill="#f80067" opacity="0.7"/>
<circle cx="624.4" cy="481.6" r="1.06" fill="#f80067" opacity="0.7"/>
<circle cx="641.4" cy="478.0" r="1.01" fill="#f80067" opacity="0.7"/>
<circle cx="624.0" cy="482.0" r="1.07" fill="#f80067" opacity="0.7"/>
<defs><linearGradient id="g463"><stop offset="0" stop-color="#fb0063"/><stop offset="1" stop-color="#f30070"/></linearGradient></defs>
<rect x="641" y="476.16" width="50" height="3.8" rx="1.9" fill="url(#g463)" opacity="1.0"/>
<defs><linearGradient id="g465"><stop offset="0" stop-color="#0086fa"/><stop offset="1" stop-color="#0086fa"/></linearGradient></defs>
<rect x="571.2" y="492.62" width="27.799999999999955" height="3.0" rx="1.5" fill="url(#g465)" opacity="1.0"/>
<path d="M599.0,492.5 L599.9,489.9 L600.9,488.7 L601.8,488.6 L602.7,488.0 L603.7,487.1 L604.6,487.5 L605.5,487.4 L606.5,486.7 L607.4,487.2 L608.3,487.5 L609.3,488.4 L610.2,488.5 L611.1,489.3 L612.1,489.9 L613.0,492.5 L613.0,495.6 L612.1,498.4 L611.1,499.0 L610.2,499.5 L609.3,499.7 L608.3,500.4 L607.4,501.1 L606.5,500.8 L605.5,500.8 L604.6,500.6 L603.7,500.7 L602.7,500.3 L601.8,499.2 L600.9,499.2 L599.9,498.5 L599.0,495.6Z" fill="#0084f8" opacity="0.9"/>
<defs><linearGradient id="g468"><stop offset="0" stop-color="#fb0063"/><stop offset="1" stop-color="#df0086"/></linearGradient></defs>
<rect x="612.8" y="492.62" width="49.60000000000002" height="3.0" rx="1.5" fill="url(#g468)" opacity="1.0"/>
<rect x="618.6" y="492.62" width="1.6" height="3.0" fill="#b900a0" opacity="0.75"/>
<rect x="633.0" y="492.62" width="1.3" height="3.0" fill="#b900a0" opacity="0.75"/>
<rect x="620.9" y="492.62" width="2.3" height="3.0" fill="#b900a0" opacity="0.75"/>
<rect x="646.4" y="492.62" width="2.6" height="3.0" fill="#b900a0" opacity="0.75"/>
<rect x="659.5" y="492.62" width="2.4" height="3.0" fill="#b900a0" opacity="0.75"/>
<rect x="631.2" y="492.62" width="1.4" height="3.0" fill="#b900a0" opacity="0.75"/>
<rect x="628.3" y="492.62" width="1.8" height="3.0" fill="#b900a0" opacity="0.75"/>
<rect x="638.3" y="492.62" width="2.0" height="3.0" fill="#b900a0" opacity="0.75"/>
<defs><linearGradient id="g478"><stop offset="0" stop-color="#0086fa"/><stop offset="1" stop-color="#0086fa"/></linearGradient></defs>
<rect x="589.6" y="508.58" width="13.399999999999977" height="3.2" rx="1.6" fill="url(#g478)" opacity="1.0"/>
<path d="M601.5,508.6 L602.4,505.7 L603.3,504.4 L604.3,503.8 L605.2,503.8 L606.1,503.1 L607.0,502.9 L608.0,503.1 L608.9,503.1 L609.8,504.2 L610.7,504.1 L611.7,505.4 L612.6,505.7 L613.5,508.6 L613.5,511.7 L612.6,514.6 L611.7,514.9 L610.7,515.8 L609.8,515.6 L608.9,517.4 L608.0,516.8 L607.0,517.1 L606.1,517.4 L605.2,516.8 L604.3,516.4 L603.3,515.6 L602.4,514.7 L601.5,511.7Z" fill="#0084f8" opacity="0.9"/>
<defs><linearGradient id="g481"><stop offset="0" stop-color="#ff0058"/><stop offset="1" stop-color="#f6006c"/></linearGradient></defs>
<rect x="612" y="508.48" width="67" height="3.4" rx="1.7" fill="url(#g481)" opacity="1.0"/>
<defs><linearGradient id="g483"><stop offset="0" stop-color="#ff0058"/><stop offset="1" stop-color="#ff0058"/></linearGradient></defs>
<rect x="595" y="524.74" width="4.5" height="3" rx="1.5" fill="url(#g483)" opacity="1.0"/>
<defs><linearGradient id="g485"><stop offset="0" stop-color="#0086fa"/><stop offset="1" stop-color="#0086fa"/></linearGradient></defs>
<rect x="599" y="524.74" width="5" height="3" rx="1.5" fill="url(#g485)" opacity="1.0"/>
<path d="M602.0,524.6 L602.9,524.1 L603.8,523.6 L604.7,523.1 L605.6,522.9 L606.5,522.3 L607.4,521.7 L608.3,521.2 L609.2,521.3 L610.1,520.9 L611.0,519.9 L611.9,520.1 L612.8,520.0 L613.7,519.2 L614.6,520.5 L615.5,524.6 L615.5,527.8 L614.6,531.5 L613.7,533.2 L612.8,531.9 L611.9,532.1 L611.0,532.3 L610.1,531.0 L609.2,530.8 L608.3,530.8 L607.4,531.0 L606.5,530.2 L605.6,529.7 L604.7,529.3 L603.8,528.9 L602.9,528.3 L602.0,527.7Z" fill="#0084f8" opacity="0.9"/>
<defs><linearGradient id="g488"><stop offset="0" stop-color="#ff0058"/><stop offset="1" stop-color="#f80067"/></linearGradient></defs>
<rect x="614.5" y="524.44" width="40.700000000000045" height="3.6" rx="1.8" fill="url(#g488)" opacity="1.0"/>
<defs><linearGradient id="g490"><stop offset="0" stop-color="#ff0058"/><stop offset="1" stop-color="#ff0058"/></linearGradient></defs>
<rect x="574.4" y="540.30" width="39.200000000000045" height="4.0" rx="2.0" fill="url(#g490)" opacity="1.0"/>
<path d="M612.5,540.7 L613.5,538.0 L614.5,537.0 L615.5,536.3 L616.5,535.5 L617.5,536.3 L618.4,536.7 L619.4,537.3 L620.4,538.4 L621.4,538.9 L622.4,540.7 L622.4,543.8 L621.4,545.8 L620.4,546.4 L619.4,547.3 L618.4,547.9 L617.5,548.1 L616.5,548.5 L615.5,547.9 L614.5,547.4 L613.5,546.7 L612.5,543.8Z" fill="#0079f3" opacity="0.7"/>
<rect x="612.75" y="535.30" width="3.5" height="14" rx="1.75" fill="#007cf5" opacity="0.8"/>
<defs><linearGradient id="g494"><stop offset="0" stop-color="#ff0058"/><stop offset="1" stop-color="#f80067"/></linearGradient></defs>
<rect x="520.8" y="556.66" width="68.20000000000005" height="3.4" rx="1.7" fill="url(#g494)" opacity="1.0"/>
<rect x="530.6" y="556.66" width="2.3" height="3.4" fill="#0086fa" opacity="0.75"/>
<rect x="573.3" y="556.66" width="1.9" height="3.4" fill="#0086fa" opacity="0.75"/>
<rect x="576.0" y="556.66" width="2.0" height="3.4" fill="#0086fa" opacity="0.75"/>
<rect x="540.0" y="556.66" width="1.4" height="3.4" fill="#0086fa" opacity="0.75"/>
<rect x="522.9" y="556.66" width="2.1" height="3.4" fill="#0086fa" opacity="0.75"/>
<rect x="580.3" y="556.66" width="2.5" height="3.4" fill="#0086fa" opacity="0.75"/>
<rect x="552.3" y="556.66" width="2.1" height="3.4" fill="#0086fa" opacity="0.75"/>
<rect x="582.3" y="556.66" width="2.3" height="3.4" fill="#0086fa" opacity="0.75"/>
<defs><linearGradient id="g504"><stop offset="0" stop-color="#6459da"/><stop offset="1" stop-color="#266cea"/></linearGradient></defs>
<rect x="588" y="556.56" width="19" height="3.6" rx="1.8" fill="url(#g504)" opacity="1.0"/>
<path d="M606.0,556.8 L606.9,555.9 L607.8,555.6 L608.6,554.9 L609.5,555.0 L610.4,554.4 L611.3,554.5 L612.2,554.4 L613.1,553.5 L613.9,553.7 L614.8,553.7 L615.7,553.9 L616.6,554.0 L617.5,555.0 L618.4,555.0 L619.2,555.4 L620.1,555.8 L621.0,556.8 L621.0,559.9 L620.1,560.8 L619.2,561.2 L618.4,561.5 L617.5,561.8 L616.6,562.6 L615.7,562.9 L614.8,562.8 L613.9,562.8 L613.1,563.0 L612.2,562.3 L611.3,562.4 L610.4,562.3 L609.5,561.5 L608.6,561.6 L607.8,561.0 L606.9,560.8 L606.0,559.9Z" fill="#007cf5" opacity="0.6"/>
<rect x="612.00" y="550.86" width="4" height="15" rx="1.80" fill="#007ff7" opacity="0.85"/>
<defs><linearGradient id="g508"><stop offset="0" stop-color="#b900a0"/><stop offset="1" stop-color="#266cea"/></linearGradient></defs>
<rect x="616" y="556.66" width="18.799999999999955" height="3.4" rx="1.7" fill="url(#g508)" opacity="1.0"/>
<defs><linearGradient id="g510"><stop offset="0" stop-color="#ff0058"/><stop offset="1" stop-color="#ff0058"/></linearGradient></defs>
<rect x="552" y="572.92" width="4" height="3" rx="1.5" fill="url(#g510)" opacity="1.0"/>
<defs><linearGradient id="g512"><stop offset="0" stop-color="#ff0058"/><stop offset="1" stop-color="#ff0058"/></linearGradient></defs>
<rect x="561.6" y="572.72" width="20.899999999999977" height="3.4" rx="1.7" fill="url(#g512)" opacity="1.0"/>
<defs><linearGradient id="g514"><stop offset="0" stop-color="#0086fa"/><stop offset="1" stop-color="#0086fa"/></linearGradient></defs>
<rect x="582" y="572.72" width="18.5" height="3.4" rx="1.7" fill="url(#g514)" opacity="1.0"/>
<defs><linearGradient id="g516"><stop offset="0" stop-color="#f80067"/><stop offset="1" stop-color="#f10072"/></linearGradient></defs>
<rect x="600" y="572.72" width="11" height="3.4" rx="1.7" fill="url(#g516)" opacity="1.0"/>
<rect x="612.10" y="567.42" width="4.2" height="14" rx="1.80" fill="#007cf5" opacity="0.8"/>
<defs><linearGradient id="g519"><stop offset="0" stop-color="#9233b9"/><stop offset="1" stop-color="#9233b9"/></linearGradient></defs>
<rect x="616" y="572.82" width="6.7999999999999545" height="3.2" rx="1.6" fill="url(#g519)" opacity="1.0"/>
<defs><linearGradient id="g521"><stop offset="0" stop-color="#ff0058"/><stop offset="1" stop-color="#ff0058"/></linearGradient></defs>
<rect x="587.3" y="588.78" width="20.200000000000045" height="3.4" rx="1.7" fill="url(#g521)" opacity="1.0"/>
<rect x="607.00" y="583.98" width="8" height="13" rx="1.80" fill="#0088fa" opacity="1.0"/>
<defs><linearGradient id="g524"><stop offset="0" stop-color="#ff0058"/><stop offset="1" stop-color="#f10072"/></linearGradient></defs>
<rect x="614.5" y="588.68" width="52.700000000000045" height="3.6" rx="1.8" fill="url(#g524)" opacity="1.0"/>
<rect x="657.8" y="588.68" width="2.4" height="3.6" fill="#9d22ac" opacity="0.75"/>
<rect x="661.8" y="588.68" width="2.1" height="3.6" fill="#9d22ac" opacity="0.75"/>
<rect x="617.0" y="588.68" width="2.0" height="3.6" fill="#9d22ac" opacity="0.75"/>
<rect x="642.8" y="588.68" width="1.9" height="3.6" fill="#9d22ac" opacity="0.75"/>
<defs><linearGradient id="g530"><stop offset="0" stop-color="#e9007c"/><stop offset="1" stop-color="#e9007c"/></linearGradient></defs>
<rect x="672.3" y="588.98" width="3.0" height="3" rx="1.5" fill="url(#g530)" opacity="1.0"/>
<defs><linearGradient id="g532"><stop offset="0" stop-color="#ff0058"/><stop offset="1" stop-color="#ff0058"/></linearGradient></defs>
<rect x="570" y="604.64" width="41" height="3.8" rx="1.9" fill="url(#g532)" opacity="1.0"/>
<path d="M610.5,604.9 L611.4,602.7 L612.4,602.1 L613.3,601.4 L614.2,600.6 L615.1,601.5 L616.0,601.4 L617.0,602.1 L617.9,602.4 L618.8,602.9 L619.8,603.2 L620.7,603.8 L621.6,604.9 L621.6,608.0 L620.7,609.4 L619.8,609.6 L618.8,610.2 L617.9,610.8 L617.0,611.1 L616.0,611.5 L615.1,611.4 L614.2,612.5 L613.3,611.3 L612.4,611.2 L611.4,610.4 L610.5,608.0Z" fill="#007cf5" opacity="0.65"/>
<rect x="612.60" y="599.29" width="3.8" height="14.5" rx="1.80" fill="#007cf5" opacity="0.8"/>
<defs><linearGradient id="g536"><stop offset="0" stop-color="#0086fa"/><stop offset="1" stop-color="#0084f8"/></linearGradient></defs>
<rect x="579" y="620.80" width="34" height="3.6" rx="1.8" fill="url(#g536)" opacity="1.0"/>
<path d="M612.0,621.0 L612.9,619.4 L613.8,619.1 L614.8,618.2 L615.7,618.4 L616.6,618.3 L617.5,618.7 L618.5,618.9 L619.4,619.4 L620.3,619.2 L621.2,619.6 L622.2,620.2 L623.1,620.4 L624.0,621.0 L624.0,624.1 L623.1,624.6 L622.2,625.1 L621.2,625.4 L620.3,625.7 L619.4,625.6 L618.5,626.2 L617.5,626.3 L616.6,627.1 L615.7,626.9 L614.8,626.7 L613.8,625.9 L612.9,625.8 L612.0,624.1Z" fill="#fb0063" opacity="0.55"/>
<rect x="612.60" y="615.60" width="3.8" height="14" rx="1.80" fill="#f6006c" opacity="0.8"/>
<defs><linearGradient id="g540"><stop offset="0" stop-color="#ff0058"/><stop offset="1" stop-color="#ff0058"/></linearGradient></defs>
<rect x="553" y="636.86" width="59" height="3.6" rx="1.8" fill="url(#g540)" opacity="1.0"/>
<rect x="612.90" y="631.41" width="4.2" height="14.5" rx="1.80" fill="#0082f8" opacity="0.85"/>
<defs><linearGradient id="g543"><stop offset="0" stop-color="#0079f3"/><stop offset="1" stop-color="#d40090"/></linearGradient></defs>
<rect x="617" y="636.96" width="14" height="3.4" rx="1.7" fill="url(#g543)" opacity="1.0"/>
<defs><linearGradient id="g545"><stop offset="0" stop-color="#0086fa"/><stop offset="1" stop-color="#0086fa"/></linearGradient></defs>
<rect x="598" y="653.02" width="14" height="3.4" rx="1.7" fill="url(#g545)" opacity="1.0"/>
<rect x="611.20" y="647.47" width="3.8" height="14.5" rx="1.80" fill="#0085f9" opacity="1.0"/>
<defs><linearGradient id="g548"><stop offset="0" stop-color="#fb0063"/><stop offset="1" stop-color="#b900a0"/></linearGradient></defs>
<rect x="615" y="653.02" width="20.5" height="3.4" rx="1.7" fill="url(#g548)" opacity="1.0"/>
<rect x="619.5" y="653.02" width="1.3" height="3.4" fill="#9d22ac" opacity="0.75"/>
<rect x="625.2" y="653.02" width="2.2" height="3.4" fill="#9d22ac" opacity="0.75"/>
<defs><linearGradient id="g552"><stop offset="0" stop-color="#ff0058"/><stop offset="1" stop-color="#ff0058"/></linearGradient></defs>
<rect x="585" y="668.98" width="21" height="3.6" rx="1.8" fill="url(#g552)" opacity="1.0"/>
<defs><linearGradient id="g554"><stop offset="0" stop-color="#0086fa"/><stop offset="1" stop-color="#0086fa"/></linearGradient></defs>
<rect x="605" y="668.98" width="7" height="3.6" rx="1.8" fill="url(#g554)" opacity="1.0"/>
<rect x="610.70" y="663.78" width="4.6" height="14" rx="1.80" fill="#0085f9" opacity="1.0"/>
<defs><linearGradient id="g557"><stop offset="0" stop-color="#ff0058"/><stop offset="1" stop-color="#f6006c"/></linearGradient></defs>
<rect x="615.5" y="668.98" width="33.0" height="3.6" rx="1.8" fill="url(#g557)" opacity="1.0"/>
<defs><linearGradient id="g559"><stop offset="0" stop-color="#0086fa"/><stop offset="1" stop-color="#0086fa"/></linearGradient></defs>
<rect x="598" y="685.14" width="12" height="3.4" rx="1.7" fill="url(#g559)" opacity="1.0"/>
<path d="M608.5,685.2 L609.4,684.2 L610.4,683.2 L611.3,682.8 L612.3,681.7 L613.2,681.1 L614.2,680.3 L615.1,679.9 L616.1,678.8 L617.0,685.2 L617.0,688.3 L616.1,694.6 L615.1,693.4 L614.2,692.8 L613.2,692.8 L612.3,691.7 L611.3,690.5 L610.4,690.6 L609.4,689.5 L608.5,688.5Z" fill="#8542c5" opacity="0.9"/>
<defs><linearGradient id="g562"><stop offset="0" stop-color="#f80067"/><stop offset="1" stop-color="#f10072"/></linearGradient></defs>
<rect x="616" y="685.14" width="21" height="3.4" rx="1.7" fill="url(#g562)" opacity="1.0"/>
<defs><linearGradient id="g564"><stop offset="0" stop-color="#ff0058"/><stop offset="1" stop-color="#f80067"/></linearGradient></defs>
<rect x="567" y="700.90" width="44" height="4.0" rx="2.0" fill="url(#g564)" opacity="1.0"/>
<rect x="613.10" y="695.40" width="3.6" height="15" rx="1.80" fill="#0079f3" opacity="0.7"/>
<defs><linearGradient id="g567"><stop offset="0" stop-color="#ff0058"/><stop offset="1" stop-color="#f10072"/></linearGradient></defs>
<rect x="596.2" y="717.26" width="49.5" height="3.4" rx="1.7" fill="url(#g567)" opacity="1.0"/>
<rect x="622.6" y="717.26" width="1.3" height="3.4" fill="#9d22ac" opacity="0.75"/>
<rect x="608.2" y="717.26" width="2.5" height="3.4" fill="#9d22ac" opacity="0.75"/>
<rect x="603.9" y="717.26" width="2.5" height="3.4" fill="#9d22ac" opacity="0.75"/>
<rect x="605.5" y="717.26" width="2.6" height="3.4" fill="#9d22ac" opacity="0.75"/>
<rect x="628.6" y="717.26" width="2.1" height="3.4" fill="#9d22ac" opacity="0.75"/>
<rect x="603.8" y="717.26" width="1.3" height="3.4" fill="#9d22ac" opacity="0.75"/>
<rect x="632.5" y="717.26" width="1.4" height="3.4" fill="#9d22ac" opacity="0.75"/>
<rect x="611.00" y="711.96" width="4" height="14" rx="1.80" fill="#0085f9" opacity="1.0"/>
<defs><linearGradient id="g577"><stop offset="0" stop-color="#ff0058"/><stop offset="1" stop-color="#ff0058"/></linearGradient></defs>
<rect x="599" y="733.22" width="10" height="3.6" rx="1.8" fill="url(#g577)" opacity="1.0"/>
<path d="M608.0,733.4 L609.0,732.1 L610.0,731.0 L611.0,730.2 L612.0,729.1 L613.0,728.4 L614.0,728.6 L615.0,728.4 L616.0,729.3 L617.0,733.4 L617.0,736.7 L616.0,740.5 L615.0,741.0 L614.0,741.2 L613.0,741.5 L612.0,741.2 L611.0,739.4 L610.0,739.2 L609.0,738.0 L608.0,736.5Z" fill="#0085f9" opacity="1.0"/>
<defs><linearGradient id="g580"><stop offset="0" stop-color="#ff0058"/><stop offset="1" stop-color="#e9007c"/></linearGradient></defs>
<rect x="616.8" y="733.22" width="44.200000000000045" height="3.6" rx="1.8" fill="url(#g580)" opacity="1.0"/>
<rect x="629.4" y="733.22" width="1.4" height="3.6" fill="#9d22ac" opacity="0.75"/>
<rect x="623.8" y="733.22" width="1.4" height="3.6" fill="#9d22ac" opacity="0.75"/>
<rect x="632.3" y="733.22" width="2.5" height="3.6" fill="#9d22ac" opacity="0.75"/>
<rect x="621.0" y="733.22" width="1.5" height="3.6" fill="#9d22ac" opacity="0.75"/>
<rect x="656.5" y="733.22" width="2.6" height="3.6" fill="#9d22ac" opacity="0.75"/>
<rect x="658.2" y="733.22" width="1.5" height="3.6" fill="#9d22ac" opacity="0.75"/>
<rect x="632.4" y="733.22" width="2.5" height="3.6" fill="#9d22ac" opacity="0.75"/>
<defs><linearGradient id="g589"><stop offset="0" stop-color="#e9007c"/><stop offset="1" stop-color="#f80067"/></linearGradient></defs>
<rect x="560" y="749.28" width="50" height="3.6" rx="1.8" fill="url(#g589)" opacity="1.0"/>
<rect x="583.8" y="749.28" width="2.2" height="3.6" fill="#9d22ac" opacity="0.75"/>
<rect x="575.7" y="749.28" width="1.2" height="3.6" fill="#9d22ac" opacity="0.75"/>
<rect x="577.2" y="749.28" width="2.2" height="3.6" fill="#9d22ac" opacity="0.75"/>
<rect x="597.8" y="749.28" width="2.0" height="3.6" fill="#9d22ac" opacity="0.75"/>
<rect x="582.8" y="749.28" width="2.0" height="3.6" fill="#9d22ac" opacity="0.75"/>
<rect x="581.8" y="749.28" width="1.9" height="3.6" fill="#9d22ac" opacity="0.75"/>
<rect x="600.1" y="749.28" width="1.5" height="3.6" fill="#9d22ac" opacity="0.75"/>
<rect x="588.9" y="749.28" width="2.5" height="3.6" fill="#9d22ac" opacity="0.75"/>
<rect x="600.9" y="749.28" width="1.5" height="3.6" fill="#9d22ac" opacity="0.75"/>
<defs><linearGradient id="g600"><stop offset="0" stop-color="#0074f0"/><stop offset="1" stop-color="#0074f0"/></linearGradient></defs>
<rect x="609" y="749.28" width="19.5" height="3.6" rx="1.8" fill="url(#g600)" opacity="1.0"/>
<rect x="612.50" y="743.58" width="3.8" height="15" rx="1.80" fill="#0085f9" opacity="1.0"/>
<defs><linearGradient id="g603"><stop offset="0" stop-color="#f80067"/><stop offset="1" stop-color="#e9007c"/></linearGradient></defs>
<rect x="579.5" y="765.34" width="32.5" height="3.6" rx="1.8" fill="url(#g603)" opacity="1.0"/>
<rect x="608.9" y="765.34" width="2.4" height="3.6" fill="#9d22ac" opacity="0.75"/>
<rect x="585.5" y="765.34" width="1.6" height="3.6" fill="#9d22ac" opacity="0.75"/>
<rect x="586.5" y="765.34" width="1.3" height="3.6" fill="#9d22ac" opacity="0.75"/>
<rect x="609.4" y="765.34" width="1.8" height="3.6" fill="#9d22ac" opacity="0.75"/>
<rect x="606.2" y="765.34" width="1.4" height="3.6" fill="#9d22ac" opacity="0.75"/>
<rect x="580.9" y="765.34" width="2.4" height="3.6" fill="#9d22ac" opacity="0.75"/>
<rect x="612.25" y="759.64" width="4.5" height="15" rx="1.80" fill="#0085f9" opacity="1.0"/>
<defs><linearGradient id="g612"><stop offset="0" stop-color="#0074f0"/><stop offset="1" stop-color="#0074f0"/></linearGradient></defs>
<rect x="616.5" y="765.44" width="6.7999999999999545" height="3.4" rx="1.7" fill="url(#g612)" opacity="1.0"/>
<defs><linearGradient id="g614"><stop offset="0" stop-color="#f6006c"/><stop offset="1" stop-color="#f10072"/></linearGradient></defs>
<rect x="623" y="765.44" width="9.700000000000045" height="3.4" rx="1.7" fill="url(#g614)" opacity="1.0"/>
</g>
</svg></body></html>
